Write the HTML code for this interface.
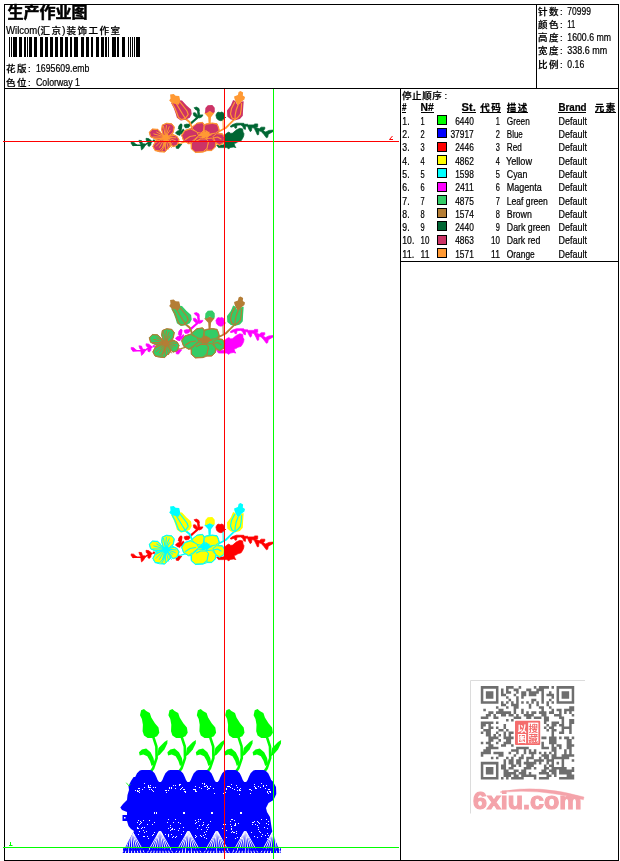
<!DOCTYPE html>
<html lang="zh-CN"><head><meta charset="utf-8"><title>生产作业图</title>
<style>
html,body{margin:0;padding:0;background:#fff;}
body{width:620px;height:861px;position:relative;overflow:hidden;font-family:"Liberation Sans", "Noto Sans CJK SC", sans-serif;}
svg text{font-family:"Liberation Sans", "Noto Sans CJK SC", sans-serif;}
#txt text{stroke:#000;stroke-width:.22px;}
</style></head>
<body>
<svg width="620" height="861" viewBox="0 0 620 861" style="position:absolute;left:0;top:0">
<rect width="620" height="861" fill="#fff"/>
<g transform="translate(0,0)">
<path d="M131.2 141.9 L133.7 142.2 L135.7 144.1 L137 145.1 L133.1 145.7 L131.2 143.8Z" fill="#006633" stroke="#006633" stroke-width="0.7" stroke-linejoin="round"/>
<path d="M133 145.2 L140 145.3 L145.4 144.6 L147.5 143.2 L152 141.5" fill="none" stroke="#006633" stroke-width="1.6" stroke-linecap="round" stroke-linejoin="round"/>
<path d="M138.9 140.3 L141.5 140.6 L142.5 143.5 L140 143.5Z" fill="#006633" stroke="#006633" stroke-width="0.7" stroke-linejoin="round"/>
<path d="M140.8 143.8 L144.7 143.8 L145.4 145.1 L143.4 148.3 L141.5 149.9 L141 147Z" fill="#006633" stroke="#006633" stroke-width="0.7" stroke-linejoin="round"/>
<path d="M146 138.3 L148.6 138.6 L151.2 140.6 L151.8 141.9 L147.9 141.9 L146.3 140.6Z" fill="#006633" stroke="#006633" stroke-width="0.7" stroke-linejoin="round"/>
<path d="M147.9 142.5 L151.2 142.2 L150.8 145.1 L149.2 146.4 L147.9 145.7Z" fill="#006633" stroke="#006633" stroke-width="0.7" stroke-linejoin="round"/>
<path d="M153.1 139.9 L154.7 139.9 L154.7 141.5 L153.1 141.5Z" fill="#006633" stroke="#006633" stroke-width="0.7" stroke-linejoin="round"/>
<path d="M179.6 134.8 L180.8 124.6" fill="none" stroke="#006633" stroke-width="1.6" stroke-linecap="round" stroke-linejoin="round"/>
<path d="M175.4 132.8 L177.5 131 L180 130.2 L180.5 132.5 L179.5 135.2 L177 134.5Z" fill="#006633" stroke="#006633" stroke-width="0.7" stroke-linejoin="round"/>
<path d="M179.3 126.5 L180.3 124.2 L181.8 124.2 L181.6 129.5 L180 130.5Z" fill="#006633" stroke="#006633" stroke-width="0.7" stroke-linejoin="round"/>
<path d="M181 131 L183.5 129 L184 130.5 L182 133.5 L180.5 134Z" fill="#006633" stroke="#006633" stroke-width="0.7" stroke-linejoin="round"/>
<path d="M176 146 L177.5 144 L181.8 144.2 L180 146.5 L178.5 148.6 L176.3 148.3Z" fill="#006633" stroke="#006633" stroke-width="0.7" stroke-linejoin="round"/>
<path d="M194.1 107.7 L196.5 107.1 L199 108.5 L199.4 110.9 L197.3 110.5 L195.3 109.3Z" fill="#006633" stroke="#006633" stroke-width="0.7" stroke-linejoin="round"/>
<path d="M197.3 110.3 L199 110.7 L199.9 115.9 L198.1 116.3Z" fill="#006633" stroke="#006633" stroke-width="0.7" stroke-linejoin="round"/>
<path d="M193.3 112.9 L195.3 112.7 L197.3 114.9 L198.1 117.3 L195.7 117.3 L193.7 115.3Z" fill="#006633" stroke="#006633" stroke-width="0.7" stroke-linejoin="round"/>
<path d="M199 116.1 L200.6 114.9 L203 114.9 L201.8 116.9 L199.4 118.1Z" fill="#006633" stroke="#006633" stroke-width="0.7" stroke-linejoin="round"/>
<path d="M198.6 116.6 L195 119.8 L190.9 123.4 L187.5 125.8" fill="none" stroke="#006633" stroke-width="2.2" stroke-linecap="round" stroke-linejoin="round"/>
<path d="M184.2 124.8 L187 124 L190.3 125.2 L188.5 127.6 L185.5 127.9 L184.4 126.6Z" fill="#006633" stroke="#006633" stroke-width="0.7" stroke-linejoin="round"/>
<path d="M178.2 128.9 L179 125.5 L181.2 124 L182 125 L181.6 127.2 L180.3 129.3Z" fill="#006633" stroke="#006633" stroke-width="0.7" stroke-linejoin="round"/>
<path d="M215.9 115 L217.3 112.6 L219 112 L220 112.8 L221.2 112 L223.2 112.6 L224.2 115 L224.2 118.2 L222.8 120.3 L220.8 120.7 L218.4 120.1 L216.6 118.2Z" fill="#006633" stroke="#006633" stroke-width="0.7" stroke-linejoin="round"/>
<path d="M223.5 117.3 L225.5 117.5" fill="none" stroke="#006633" stroke-width="1" stroke-linecap="round" stroke-linejoin="round"/>
<path d="M225 134.7 L226.9 133.1 L228.8 132.1 L230.8 133.4 L232.7 133.1 L235.3 130.8 L236.3 129.9 L239.8 128.3 L242.7 128.9 L243 132.1 L244 133.7 L243.7 136 L242.7 138.3 L241.1 140.8 L237.9 141.8 L235.9 143.1 L234 143.4 L235 146.3 L235.9 147.6 L233.4 147 L230.1 147.6 L228.8 148.9 L226.9 147.6 L223.7 147.6 L218.5 147.6 L216.6 145 L223.7 145 L225 141.8Z" fill="#006633" stroke="#006633" stroke-width="0.7" stroke-linejoin="round"/>
<path d="M230.1 126.4 L232.5 124.6 L236.5 123.2 L243.8 123.3 L244.5 124.3 L247.7 124.3 L248.3 124.9 L254.1 124.9 L254.5 123.9 L257.7 123.9 L257.7 126.8 L255.4 127.2 L259.3 128.8 L261.2 127.2 L264.8 127.2 L264.8 129.1 L263.2 130.7 L265.7 132 L268.9 130.4 L273.2 130.1 L273.2 131.4 L268.3 134.3 L267.7 137.2 L266.4 137.8 L263.8 134.3 L261.2 131.4 L259 130.7 L258.6 134.6 L257.4 134.9 L256.1 132 L254.1 128.1 L251.9 127.5 L251.5 130.7 L250.3 131.7 L248.6 128.8 L247.7 126.5 L245.7 125.9 L245.4 129.4 L243.8 128.8 L242.5 125.9 L240.6 124.9 L237 125.2 L236.5 128 L235 128.2 L234.3 126.2 L231 127.2Z" fill="#006633" stroke="#006633" stroke-width="0.7" stroke-linejoin="round"/>
<path d="M185.3 118.4 L189.8 122.3 L192.4 128.7" fill="none" stroke="#ff9933" stroke-width="2" stroke-linecap="round" stroke-linejoin="round"/>
<path d="M234.1 119.6 L230.8 122.8 L225.7 128 L220.3 130.8 L218.5 131.6" fill="none" stroke="#ff9933" stroke-width="1.8" stroke-linecap="round" stroke-linejoin="round"/>
<path d="M223 120 L223.2 128.5" fill="none" stroke="#ff9933" stroke-width="1" stroke-linecap="round" stroke-linejoin="round"/>
<path d="M175.5 143.9 L181 143.1 L186 141.6" fill="none" stroke="#ff9933" stroke-width="1.3" stroke-linecap="round" stroke-linejoin="round"/>
<path d="M204.2 112.9 L209.8 110.9 L214.7 112.5 L211 117.3 L210.6 123.4 L208.6 123.4 L208.2 117.3Z" fill="#ff9933"/>
<path d="M171.1 102.9 L179.5 100.3 L182 100.6 L186.6 105.5 L191.1 109.4 L191.7 113.9 L189.8 117.7 L185.3 119.7 L180.8 120.6 L176.9 117.7 L175.6 113.2 L173.7 108.1Z" fill="#cc3366"/>
<path d="M172.3 103.5 L175 108.5 L177 113.5 L178.5 117.5 L181.3 119.6 L185.3 118.6" fill="none" stroke="#ff9933" stroke-width="1.2" stroke-linecap="round" stroke-linejoin="round"/>
<path d="M176.5 104 L179.5 109 L182.5 114 L185.3 118.4" fill="none" stroke="#ff9933" stroke-width="1.2" stroke-linecap="round" stroke-linejoin="round"/>
<path d="M180 102 L183.5 106.5 L187 111 L188.2 114.5 L185.5 118.2" fill="none" stroke="#ff9933" stroke-width="1.2" stroke-linecap="round" stroke-linejoin="round"/>
<path d="M170.1 94.5 L173.7 94 L175.6 95.8 L179.2 96.1 L180.1 99.7 L179.8 102.5 L178.5 104.8 L175.6 103.9 L171.7 102.9 L169.2 100.6 L170.5 98.4Z" fill="#ff9933"/>
<path d="M233.1 99.9 L235.4 100.9 L237.3 104.8 L241.8 101.5 L243.7 101.2 L243.1 109.3 L242.8 115.7 L239.9 119 L235.4 120.3 L230.8 119.6 L227.3 116.4 L227 110.6 L230.8 105.4Z" fill="#cc3366"/>
<path d="M234.6 102.5 L231.5 108.5 L230.5 114 L232 118 L235 119.5" fill="none" stroke="#ff9933" stroke-width="1.2" stroke-linecap="round" stroke-linejoin="round"/>
<path d="M238.3 104.5 L236.2 110 L235.2 115 L235 119.5" fill="none" stroke="#ff9933" stroke-width="1.2" stroke-linecap="round" stroke-linejoin="round"/>
<path d="M241.6 103.5 L241.2 109.5 L240.3 114.5 L237.5 117.8 L235 119.6" fill="none" stroke="#ff9933" stroke-width="1.2" stroke-linecap="round" stroke-linejoin="round"/>
<path d="M234.1 96.4 L237.9 95.1 L238.6 91.9 L240.5 90.9 L243.1 92.5 L242.8 95.4 L245 97 L244.4 99.6 L241.8 101.5 L239.9 104.1 L237.3 104.8 L235.4 100.9 L234.4 98.6Z" fill="#ff9933"/>
<path d="M205 112.9 L205.4 108.1 L207.8 105.2 L212.3 105 L214.7 107.7 L214.8 112.1 L213.1 112.9 L209.8 110.9 L206.6 112.9Z" fill="#cc3366"/>
<path d="M163.4 135.4 L161.6 129.6 L162.3 125 L166.6 123.2 L171.8 123.8 L174.3 127 L173.4 132.2 L172 134.6 L173.1 134.5 L177.2 136.5 L179.1 139.9 L177.2 145.3 L173.1 146.7 L170.5 144.5 L170 147.2 L167.9 148.6 L164.7 152.1 L159.5 151.8 L155 150.6 L152.8 146.4 L155.5 141 L157 139.3 L155 138.9 L150.5 136.8 L149.2 132.2 L152.4 129 L157.7 129.3 L161 132.6Z" fill="#cc3366" stroke="#ff9933" stroke-width="1.0" stroke-linejoin="round"/>
<path d="M163.4 135.4 L161.8 129.6 L162.5 125.1 L166.6 123.5 L171.8 124.1 L174.1 127 L173.1 132.2 L168.6 136.1Z" fill="#cc3366" stroke="#ff9933" stroke-width="1" stroke-linejoin="round"/>
<path d="M164.1 136.7 L157.6 129.6 L152.5 129.3 L149.5 132.2 L150.8 136.7 L155 138.6 L162.1 138.6Z" fill="#cc3366" stroke="#ff9933" stroke-width="1" stroke-linejoin="round"/>
<path d="M167.9 136.1 L173.1 134.8 L177 136.7 L178.9 139.9 L177 145.1 L173.1 146.4 L169.2 142.5 L167.3 138.6Z" fill="#cc3366" stroke="#ff9933" stroke-width="1" stroke-linejoin="round"/>
<path d="M163.4 138.6 L155.7 141.2 L153.1 146.4 L155 150.3 L159.5 150.9 L163.4 146.4 L165.4 141.2Z" fill="#cc3366" stroke="#ff9933" stroke-width="1" stroke-linejoin="round"/>
<path d="M165.4 141.2 L164.1 147 L161.5 151.3 L164.7 151.9 L167.9 148.3 L169.9 147 L170.5 143.8 L167.9 139.9Z" fill="#cc3366" stroke="#ff9933" stroke-width="1" stroke-linejoin="round"/>
<path d="M165.1 135.0 L163.5 126.2" fill="none" stroke="#ff9933" stroke-width="1.0" stroke-linecap="round" stroke-linejoin="round"/>
<path d="M165.6 135.0 L166.4 125.5" fill="none" stroke="#ff9933" stroke-width="1.0" stroke-linecap="round" stroke-linejoin="round"/>
<path d="M166.1 135.1 L169.2 126.7" fill="none" stroke="#ff9933" stroke-width="1.0" stroke-linecap="round" stroke-linejoin="round"/>
<path d="M166.5 135.4 L170.0 130.4" fill="none" stroke="#ff9933" stroke-width="1.0" stroke-linecap="round" stroke-linejoin="round"/>
<path d="M163.5 136.5 L153.8 133.9" fill="none" stroke="#ff9933" stroke-width="1.0" stroke-linecap="round" stroke-linejoin="round"/>
<path d="M163.4 137.0 L152.9 137.0" fill="none" stroke="#ff9933" stroke-width="1.0" stroke-linecap="round" stroke-linejoin="round"/>
<path d="M163.7 136.0 L156.7 132.0" fill="none" stroke="#ff9933" stroke-width="1.0" stroke-linecap="round" stroke-linejoin="round"/>
<path d="M163.5 137.5 L155.7 139.6" fill="none" stroke="#ff9933" stroke-width="1.0" stroke-linecap="round" stroke-linejoin="round"/>
<path d="M167.4 136.7 L174.3 135.4" fill="none" stroke="#ff9933" stroke-width="1.0" stroke-linecap="round" stroke-linejoin="round"/>
<path d="M167.4 137.2 L175.9 137.9" fill="none" stroke="#ff9933" stroke-width="1.0" stroke-linecap="round" stroke-linejoin="round"/>
<path d="M167.3 137.7 L175.3 140.6" fill="none" stroke="#ff9933" stroke-width="1.0" stroke-linecap="round" stroke-linejoin="round"/>
<path d="M167.0 138.1 L172.8 142.2" fill="none" stroke="#ff9933" stroke-width="1.0" stroke-linecap="round" stroke-linejoin="round"/>
<path d="M164.4 138.7 L159.4 147.4" fill="none" stroke="#ff9933" stroke-width="1.0" stroke-linecap="round" stroke-linejoin="round"/>
<path d="M164.0 138.4 L156.2 146.2" fill="none" stroke="#ff9933" stroke-width="1.0" stroke-linecap="round" stroke-linejoin="round"/>
<path d="M163.7 138.0 L155.9 142.5" fill="none" stroke="#ff9933" stroke-width="1.0" stroke-linecap="round" stroke-linejoin="round"/>
<path d="M164.9 138.9 L162.6 147.6" fill="none" stroke="#ff9933" stroke-width="1.0" stroke-linecap="round" stroke-linejoin="round"/>
<path d="M165.9 138.9 L168.6 149.1" fill="none" stroke="#ff9933" stroke-width="1.0" stroke-linecap="round" stroke-linejoin="round"/>
<path d="M166.4 138.7 L171.4 147.4" fill="none" stroke="#ff9933" stroke-width="1.0" stroke-linecap="round" stroke-linejoin="round"/>
<path d="M165.4 139.0 L165.4 149.5" fill="none" stroke="#ff9933" stroke-width="1.0" stroke-linecap="round" stroke-linejoin="round"/>
<path d="M166.7 138.5 L171.4 143.7" fill="none" stroke="#ff9933" stroke-width="1.0" stroke-linecap="round" stroke-linejoin="round"/>
<path d="M162.5 134.5 L165.5 135.2 L168 133.8 L168.3 136.5 L170 138.5 L167.5 139.2 L166.5 141.5 L164.5 139.5 L161.5 139.5 L163 137.2Z" fill="#ff9933"/>
<path d="M181.6 134.7 L184.7 130.5 L190.5 128.5 L192.5 127 L196.9 123.2 L202.6 122.3 L204.5 124.5 L206.6 123.8 L212.3 123 L217.1 123.8 L218.6 127.4 L219.5 131 L218 133 L222.5 133.8 L224.6 137.6 L224.2 142.5 L219.6 145.3 L216 143.5 L215.4 147 L211.8 150.6 L207 150.6 L203.1 152.1 L195.4 152.5 L191.2 148.7 L191 143.5 L188.6 143.8 L183.5 140.7Z" fill="#cc3366" stroke="#ff9933" stroke-width="1.0" stroke-linejoin="round"/>
<path d="M192.9 126.6 L196.9 123.4 L202.6 122.6 L204.2 125.8 L203.4 130.6 L201 133.1 L196.1 132.3 L192.1 128.2Z" fill="#cc3366" stroke="#ff9933" stroke-width="1" stroke-linejoin="round"/>
<path d="M204.2 125.8 L206.6 124.2 L212.3 123.4 L217.1 124.2 L218.3 127.4 L219.1 130.6 L215.5 133.1 L210.6 133.9 L206.6 131 L204.2 130.6Z" fill="#cc3366" stroke="#ff9933" stroke-width="1" stroke-linejoin="round"/>
<path d="M181.8 135.7 L184.7 130.8 L190.5 128.9 L196.8 131.8 L198.7 135.7 L192.5 141 L188.6 143.4 L183.7 140.5Z" fill="#cc3366" stroke="#ff9933" stroke-width="1" stroke-linejoin="round"/>
<path d="M212.8 136.6 L216.7 133.7 L222.5 134.2 L224.4 137.6 L223.9 142.5 L219.6 144.9 L215.7 142.5Z" fill="#cc3366" stroke="#ff9933" stroke-width="1" stroke-linejoin="round"/>
<path d="M208.4 141.5 L206 138.6 L211.8 138.1 L215.7 142.5 L215.2 146.8 L211.8 150.2 L207 150.2 L207 148.3Z" fill="#cc3366" stroke="#ff9933" stroke-width="1" stroke-linejoin="round"/>
<path d="M191.5 142.9 L198.3 137.1 L205 137.6 L208.4 141.5 L207 148.3 L203.1 151.7 L195.4 152.1 L191.5 148.7Z" fill="#cc3366" stroke="#ff9933" stroke-width="1" stroke-linejoin="round"/>
<path d="M185.5 139.5 L190 136.5 L195.5 135.5" fill="none" stroke="#ff9933" stroke-width="1.2" stroke-linecap="round" stroke-linejoin="round"/>
<path d="M196.5 141 L200.5 139 L205.5 139" fill="none" stroke="#ff9933" stroke-width="1.2" stroke-linecap="round" stroke-linejoin="round"/>
<path d="M213.5 138 L217.5 137 L221 139" fill="none" stroke="#ff9933" stroke-width="1.2" stroke-linecap="round" stroke-linejoin="round"/>
<path d="M199.5 134 L202.5 132.3 L203.6 129.5 L205.2 131.8 L206.6 130.6 L207.6 132.2 L209.4 131.4 L209 133.4 L213 134.8 L209.4 136 L207 138.3 L204.8 137.2 L202 138.4 L201.6 136.2 L198 136Z" fill="#ff9933"/>
</g>
<g transform="translate(0,205.5)">
<path d="M131.2 141.9 L133.7 142.2 L135.7 144.1 L137 145.1 L133.1 145.7 L131.2 143.8Z" fill="#ff00ff" stroke="#ff00ff" stroke-width="0.7" stroke-linejoin="round"/>
<path d="M133 145.2 L140 145.3 L145.4 144.6 L147.5 143.2 L152 141.5" fill="none" stroke="#ff00ff" stroke-width="1.6" stroke-linecap="round" stroke-linejoin="round"/>
<path d="M138.9 140.3 L141.5 140.6 L142.5 143.5 L140 143.5Z" fill="#ff00ff" stroke="#ff00ff" stroke-width="0.7" stroke-linejoin="round"/>
<path d="M140.8 143.8 L144.7 143.8 L145.4 145.1 L143.4 148.3 L141.5 149.9 L141 147Z" fill="#ff00ff" stroke="#ff00ff" stroke-width="0.7" stroke-linejoin="round"/>
<path d="M146 138.3 L148.6 138.6 L151.2 140.6 L151.8 141.9 L147.9 141.9 L146.3 140.6Z" fill="#ff00ff" stroke="#ff00ff" stroke-width="0.7" stroke-linejoin="round"/>
<path d="M147.9 142.5 L151.2 142.2 L150.8 145.1 L149.2 146.4 L147.9 145.7Z" fill="#ff00ff" stroke="#ff00ff" stroke-width="0.7" stroke-linejoin="round"/>
<path d="M153.1 139.9 L154.7 139.9 L154.7 141.5 L153.1 141.5Z" fill="#ff00ff" stroke="#ff00ff" stroke-width="0.7" stroke-linejoin="round"/>
<path d="M179.6 134.8 L180.8 124.6" fill="none" stroke="#ff00ff" stroke-width="1.6" stroke-linecap="round" stroke-linejoin="round"/>
<path d="M175.4 132.8 L177.5 131 L180 130.2 L180.5 132.5 L179.5 135.2 L177 134.5Z" fill="#ff00ff" stroke="#ff00ff" stroke-width="0.7" stroke-linejoin="round"/>
<path d="M179.3 126.5 L180.3 124.2 L181.8 124.2 L181.6 129.5 L180 130.5Z" fill="#ff00ff" stroke="#ff00ff" stroke-width="0.7" stroke-linejoin="round"/>
<path d="M181 131 L183.5 129 L184 130.5 L182 133.5 L180.5 134Z" fill="#ff00ff" stroke="#ff00ff" stroke-width="0.7" stroke-linejoin="round"/>
<path d="M176 146 L177.5 144 L181.8 144.2 L180 146.5 L178.5 148.6 L176.3 148.3Z" fill="#ff00ff" stroke="#ff00ff" stroke-width="0.7" stroke-linejoin="round"/>
<path d="M194.1 107.7 L196.5 107.1 L199 108.5 L199.4 110.9 L197.3 110.5 L195.3 109.3Z" fill="#ff00ff" stroke="#ff00ff" stroke-width="0.7" stroke-linejoin="round"/>
<path d="M197.3 110.3 L199 110.7 L199.9 115.9 L198.1 116.3Z" fill="#ff00ff" stroke="#ff00ff" stroke-width="0.7" stroke-linejoin="round"/>
<path d="M193.3 112.9 L195.3 112.7 L197.3 114.9 L198.1 117.3 L195.7 117.3 L193.7 115.3Z" fill="#ff00ff" stroke="#ff00ff" stroke-width="0.7" stroke-linejoin="round"/>
<path d="M199 116.1 L200.6 114.9 L203 114.9 L201.8 116.9 L199.4 118.1Z" fill="#ff00ff" stroke="#ff00ff" stroke-width="0.7" stroke-linejoin="round"/>
<path d="M198.6 116.6 L195 119.8 L190.9 123.4 L187.5 125.8" fill="none" stroke="#ff00ff" stroke-width="2.2" stroke-linecap="round" stroke-linejoin="round"/>
<path d="M184.2 124.8 L187 124 L190.3 125.2 L188.5 127.6 L185.5 127.9 L184.4 126.6Z" fill="#ff00ff" stroke="#ff00ff" stroke-width="0.7" stroke-linejoin="round"/>
<path d="M178.2 128.9 L179 125.5 L181.2 124 L182 125 L181.6 127.2 L180.3 129.3Z" fill="#ff00ff" stroke="#ff00ff" stroke-width="0.7" stroke-linejoin="round"/>
<path d="M215.9 115 L217.3 112.6 L219 112 L220 112.8 L221.2 112 L223.2 112.6 L224.2 115 L224.2 118.2 L222.8 120.3 L220.8 120.7 L218.4 120.1 L216.6 118.2Z" fill="#ff00ff" stroke="#ff00ff" stroke-width="0.7" stroke-linejoin="round"/>
<path d="M223.5 117.3 L225.5 117.5" fill="none" stroke="#ff00ff" stroke-width="1" stroke-linecap="round" stroke-linejoin="round"/>
<path d="M225 134.7 L226.9 133.1 L228.8 132.1 L230.8 133.4 L232.7 133.1 L235.3 130.8 L236.3 129.9 L239.8 128.3 L242.7 128.9 L243 132.1 L244 133.7 L243.7 136 L242.7 138.3 L241.1 140.8 L237.9 141.8 L235.9 143.1 L234 143.4 L235 146.3 L235.9 147.6 L233.4 147 L230.1 147.6 L228.8 148.9 L226.9 147.6 L223.7 147.6 L218.5 147.6 L216.6 145 L223.7 145 L225 141.8Z" fill="#ff00ff" stroke="#ff00ff" stroke-width="0.7" stroke-linejoin="round"/>
<path d="M230.1 126.4 L232.5 124.6 L236.5 123.2 L243.8 123.3 L244.5 124.3 L247.7 124.3 L248.3 124.9 L254.1 124.9 L254.5 123.9 L257.7 123.9 L257.7 126.8 L255.4 127.2 L259.3 128.8 L261.2 127.2 L264.8 127.2 L264.8 129.1 L263.2 130.7 L265.7 132 L268.9 130.4 L273.2 130.1 L273.2 131.4 L268.3 134.3 L267.7 137.2 L266.4 137.8 L263.8 134.3 L261.2 131.4 L259 130.7 L258.6 134.6 L257.4 134.9 L256.1 132 L254.1 128.1 L251.9 127.5 L251.5 130.7 L250.3 131.7 L248.6 128.8 L247.7 126.5 L245.7 125.9 L245.4 129.4 L243.8 128.8 L242.5 125.9 L240.6 124.9 L237 125.2 L236.5 128 L235 128.2 L234.3 126.2 L231 127.2Z" fill="#ff00ff" stroke="#ff00ff" stroke-width="0.7" stroke-linejoin="round"/>
<path d="M185.3 118.4 L189.8 122.3 L192.4 128.7" fill="none" stroke="#b47d35" stroke-width="2" stroke-linecap="round" stroke-linejoin="round"/>
<path d="M234.1 119.6 L230.8 122.8 L225.7 128 L220.3 130.8 L218.5 131.6" fill="none" stroke="#b47d35" stroke-width="1.8" stroke-linecap="round" stroke-linejoin="round"/>
<path d="M223 120 L223.2 128.5" fill="none" stroke="#b47d35" stroke-width="1" stroke-linecap="round" stroke-linejoin="round"/>
<path d="M175.5 143.9 L181 143.1 L186 141.6" fill="none" stroke="#b47d35" stroke-width="1.3" stroke-linecap="round" stroke-linejoin="round"/>
<path d="M204.2 112.9 L209.8 110.9 L214.7 112.5 L211 117.3 L210.6 123.4 L208.6 123.4 L208.2 117.3Z" fill="#b47d35"/>
<path d="M171.1 102.9 L179.5 100.3 L182 100.6 L186.6 105.5 L191.1 109.4 L191.7 113.9 L189.8 117.7 L185.3 119.7 L180.8 120.6 L176.9 117.7 L175.6 113.2 L173.7 108.1Z" fill="#33cc66"/>
<path d="M172.3 103.5 L175 108.5 L177 113.5 L178.5 117.5 L181.3 119.6 L185.3 118.6" fill="none" stroke="#b47d35" stroke-width="1.2" stroke-linecap="round" stroke-linejoin="round"/>
<path d="M176.5 104 L179.5 109 L182.5 114 L185.3 118.4" fill="none" stroke="#b47d35" stroke-width="1.2" stroke-linecap="round" stroke-linejoin="round"/>
<path d="M180 102 L183.5 106.5 L187 111 L188.2 114.5 L185.5 118.2" fill="none" stroke="#b47d35" stroke-width="1.2" stroke-linecap="round" stroke-linejoin="round"/>
<path d="M170.1 94.5 L173.7 94 L175.6 95.8 L179.2 96.1 L180.1 99.7 L179.8 102.5 L178.5 104.8 L175.6 103.9 L171.7 102.9 L169.2 100.6 L170.5 98.4Z" fill="#b47d35"/>
<path d="M233.1 99.9 L235.4 100.9 L237.3 104.8 L241.8 101.5 L243.7 101.2 L243.1 109.3 L242.8 115.7 L239.9 119 L235.4 120.3 L230.8 119.6 L227.3 116.4 L227 110.6 L230.8 105.4Z" fill="#33cc66"/>
<path d="M234.6 102.5 L231.5 108.5 L230.5 114 L232 118 L235 119.5" fill="none" stroke="#b47d35" stroke-width="1.2" stroke-linecap="round" stroke-linejoin="round"/>
<path d="M238.3 104.5 L236.2 110 L235.2 115 L235 119.5" fill="none" stroke="#b47d35" stroke-width="1.2" stroke-linecap="round" stroke-linejoin="round"/>
<path d="M241.6 103.5 L241.2 109.5 L240.3 114.5 L237.5 117.8 L235 119.6" fill="none" stroke="#b47d35" stroke-width="1.2" stroke-linecap="round" stroke-linejoin="round"/>
<path d="M234.1 96.4 L237.9 95.1 L238.6 91.9 L240.5 90.9 L243.1 92.5 L242.8 95.4 L245 97 L244.4 99.6 L241.8 101.5 L239.9 104.1 L237.3 104.8 L235.4 100.9 L234.4 98.6Z" fill="#b47d35"/>
<path d="M205 112.9 L205.4 108.1 L207.8 105.2 L212.3 105 L214.7 107.7 L214.8 112.1 L213.1 112.9 L209.8 110.9 L206.6 112.9Z" fill="#33cc66"/>
<path d="M163.4 135.4 L161.6 129.6 L162.3 125 L166.6 123.2 L171.8 123.8 L174.3 127 L173.4 132.2 L172 134.6 L173.1 134.5 L177.2 136.5 L179.1 139.9 L177.2 145.3 L173.1 146.7 L170.5 144.5 L170 147.2 L167.9 148.6 L164.7 152.1 L159.5 151.8 L155 150.6 L152.8 146.4 L155.5 141 L157 139.3 L155 138.9 L150.5 136.8 L149.2 132.2 L152.4 129 L157.7 129.3 L161 132.6Z" fill="#33cc66" stroke="#b47d35" stroke-width="1.0" stroke-linejoin="round"/>
<path d="M163.4 135.4 L161.8 129.6 L162.5 125.1 L166.6 123.5 L171.8 124.1 L174.1 127 L173.1 132.2 L168.6 136.1Z" fill="#33cc66" stroke="#b47d35" stroke-width="1" stroke-linejoin="round"/>
<path d="M164.1 136.7 L157.6 129.6 L152.5 129.3 L149.5 132.2 L150.8 136.7 L155 138.6 L162.1 138.6Z" fill="#33cc66" stroke="#b47d35" stroke-width="1" stroke-linejoin="round"/>
<path d="M167.9 136.1 L173.1 134.8 L177 136.7 L178.9 139.9 L177 145.1 L173.1 146.4 L169.2 142.5 L167.3 138.6Z" fill="#33cc66" stroke="#b47d35" stroke-width="1" stroke-linejoin="round"/>
<path d="M163.4 138.6 L155.7 141.2 L153.1 146.4 L155 150.3 L159.5 150.9 L163.4 146.4 L165.4 141.2Z" fill="#33cc66" stroke="#b47d35" stroke-width="1" stroke-linejoin="round"/>
<path d="M165.4 141.2 L164.1 147 L161.5 151.3 L164.7 151.9 L167.9 148.3 L169.9 147 L170.5 143.8 L167.9 139.9Z" fill="#33cc66" stroke="#b47d35" stroke-width="1" stroke-linejoin="round"/>
<path d="M165.1 135.0 L163.5 126.2" fill="none" stroke="#b47d35" stroke-width="1.0" stroke-linecap="round" stroke-linejoin="round"/>
<path d="M165.6 135.0 L166.4 125.5" fill="none" stroke="#b47d35" stroke-width="1.0" stroke-linecap="round" stroke-linejoin="round"/>
<path d="M166.1 135.1 L169.2 126.7" fill="none" stroke="#b47d35" stroke-width="1.0" stroke-linecap="round" stroke-linejoin="round"/>
<path d="M166.5 135.4 L170.0 130.4" fill="none" stroke="#b47d35" stroke-width="1.0" stroke-linecap="round" stroke-linejoin="round"/>
<path d="M163.5 136.5 L153.8 133.9" fill="none" stroke="#b47d35" stroke-width="1.0" stroke-linecap="round" stroke-linejoin="round"/>
<path d="M163.4 137.0 L152.9 137.0" fill="none" stroke="#b47d35" stroke-width="1.0" stroke-linecap="round" stroke-linejoin="round"/>
<path d="M163.7 136.0 L156.7 132.0" fill="none" stroke="#b47d35" stroke-width="1.0" stroke-linecap="round" stroke-linejoin="round"/>
<path d="M163.5 137.5 L155.7 139.6" fill="none" stroke="#b47d35" stroke-width="1.0" stroke-linecap="round" stroke-linejoin="round"/>
<path d="M167.4 136.7 L174.3 135.4" fill="none" stroke="#b47d35" stroke-width="1.0" stroke-linecap="round" stroke-linejoin="round"/>
<path d="M167.4 137.2 L175.9 137.9" fill="none" stroke="#b47d35" stroke-width="1.0" stroke-linecap="round" stroke-linejoin="round"/>
<path d="M167.3 137.7 L175.3 140.6" fill="none" stroke="#b47d35" stroke-width="1.0" stroke-linecap="round" stroke-linejoin="round"/>
<path d="M167.0 138.1 L172.8 142.2" fill="none" stroke="#b47d35" stroke-width="1.0" stroke-linecap="round" stroke-linejoin="round"/>
<path d="M164.4 138.7 L159.4 147.4" fill="none" stroke="#b47d35" stroke-width="1.0" stroke-linecap="round" stroke-linejoin="round"/>
<path d="M164.0 138.4 L156.2 146.2" fill="none" stroke="#b47d35" stroke-width="1.0" stroke-linecap="round" stroke-linejoin="round"/>
<path d="M163.7 138.0 L155.9 142.5" fill="none" stroke="#b47d35" stroke-width="1.0" stroke-linecap="round" stroke-linejoin="round"/>
<path d="M164.9 138.9 L162.6 147.6" fill="none" stroke="#b47d35" stroke-width="1.0" stroke-linecap="round" stroke-linejoin="round"/>
<path d="M165.9 138.9 L168.6 149.1" fill="none" stroke="#b47d35" stroke-width="1.0" stroke-linecap="round" stroke-linejoin="round"/>
<path d="M166.4 138.7 L171.4 147.4" fill="none" stroke="#b47d35" stroke-width="1.0" stroke-linecap="round" stroke-linejoin="round"/>
<path d="M165.4 139.0 L165.4 149.5" fill="none" stroke="#b47d35" stroke-width="1.0" stroke-linecap="round" stroke-linejoin="round"/>
<path d="M166.7 138.5 L171.4 143.7" fill="none" stroke="#b47d35" stroke-width="1.0" stroke-linecap="round" stroke-linejoin="round"/>
<path d="M162.5 134.5 L165.5 135.2 L168 133.8 L168.3 136.5 L170 138.5 L167.5 139.2 L166.5 141.5 L164.5 139.5 L161.5 139.5 L163 137.2Z" fill="#b47d35"/>
<path d="M181.6 134.7 L184.7 130.5 L190.5 128.5 L192.5 127 L196.9 123.2 L202.6 122.3 L204.5 124.5 L206.6 123.8 L212.3 123 L217.1 123.8 L218.6 127.4 L219.5 131 L218 133 L222.5 133.8 L224.6 137.6 L224.2 142.5 L219.6 145.3 L216 143.5 L215.4 147 L211.8 150.6 L207 150.6 L203.1 152.1 L195.4 152.5 L191.2 148.7 L191 143.5 L188.6 143.8 L183.5 140.7Z" fill="#33cc66" stroke="#b47d35" stroke-width="1.0" stroke-linejoin="round"/>
<path d="M192.9 126.6 L196.9 123.4 L202.6 122.6 L204.2 125.8 L203.4 130.6 L201 133.1 L196.1 132.3 L192.1 128.2Z" fill="#33cc66" stroke="#b47d35" stroke-width="1" stroke-linejoin="round"/>
<path d="M204.2 125.8 L206.6 124.2 L212.3 123.4 L217.1 124.2 L218.3 127.4 L219.1 130.6 L215.5 133.1 L210.6 133.9 L206.6 131 L204.2 130.6Z" fill="#33cc66" stroke="#b47d35" stroke-width="1" stroke-linejoin="round"/>
<path d="M181.8 135.7 L184.7 130.8 L190.5 128.9 L196.8 131.8 L198.7 135.7 L192.5 141 L188.6 143.4 L183.7 140.5Z" fill="#33cc66" stroke="#b47d35" stroke-width="1" stroke-linejoin="round"/>
<path d="M212.8 136.6 L216.7 133.7 L222.5 134.2 L224.4 137.6 L223.9 142.5 L219.6 144.9 L215.7 142.5Z" fill="#33cc66" stroke="#b47d35" stroke-width="1" stroke-linejoin="round"/>
<path d="M208.4 141.5 L206 138.6 L211.8 138.1 L215.7 142.5 L215.2 146.8 L211.8 150.2 L207 150.2 L207 148.3Z" fill="#33cc66" stroke="#b47d35" stroke-width="1" stroke-linejoin="round"/>
<path d="M191.5 142.9 L198.3 137.1 L205 137.6 L208.4 141.5 L207 148.3 L203.1 151.7 L195.4 152.1 L191.5 148.7Z" fill="#33cc66" stroke="#b47d35" stroke-width="1" stroke-linejoin="round"/>
<path d="M185.5 139.5 L190 136.5 L195.5 135.5" fill="none" stroke="#b47d35" stroke-width="1.2" stroke-linecap="round" stroke-linejoin="round"/>
<path d="M196.5 141 L200.5 139 L205.5 139" fill="none" stroke="#b47d35" stroke-width="1.2" stroke-linecap="round" stroke-linejoin="round"/>
<path d="M213.5 138 L217.5 137 L221 139" fill="none" stroke="#b47d35" stroke-width="1.2" stroke-linecap="round" stroke-linejoin="round"/>
<path d="M199.5 134 L202.5 132.3 L203.6 129.5 L205.2 131.8 L206.6 130.6 L207.6 132.2 L209.4 131.4 L209 133.4 L213 134.8 L209.4 136 L207 138.3 L204.8 137.2 L202 138.4 L201.6 136.2 L198 136Z" fill="#b47d35"/>
</g>
<g transform="translate(0,412)">
<path d="M131.2 141.9 L133.7 142.2 L135.7 144.1 L137 145.1 L133.1 145.7 L131.2 143.8Z" fill="#ff0000" stroke="#ff0000" stroke-width="0.7" stroke-linejoin="round"/>
<path d="M133 145.2 L140 145.3 L145.4 144.6 L147.5 143.2 L152 141.5" fill="none" stroke="#ff0000" stroke-width="1.6" stroke-linecap="round" stroke-linejoin="round"/>
<path d="M138.9 140.3 L141.5 140.6 L142.5 143.5 L140 143.5Z" fill="#ff0000" stroke="#ff0000" stroke-width="0.7" stroke-linejoin="round"/>
<path d="M140.8 143.8 L144.7 143.8 L145.4 145.1 L143.4 148.3 L141.5 149.9 L141 147Z" fill="#ff0000" stroke="#ff0000" stroke-width="0.7" stroke-linejoin="round"/>
<path d="M146 138.3 L148.6 138.6 L151.2 140.6 L151.8 141.9 L147.9 141.9 L146.3 140.6Z" fill="#ff0000" stroke="#ff0000" stroke-width="0.7" stroke-linejoin="round"/>
<path d="M147.9 142.5 L151.2 142.2 L150.8 145.1 L149.2 146.4 L147.9 145.7Z" fill="#ff0000" stroke="#ff0000" stroke-width="0.7" stroke-linejoin="round"/>
<path d="M153.1 139.9 L154.7 139.9 L154.7 141.5 L153.1 141.5Z" fill="#ff0000" stroke="#ff0000" stroke-width="0.7" stroke-linejoin="round"/>
<path d="M179.6 134.8 L180.8 124.6" fill="none" stroke="#ff0000" stroke-width="1.6" stroke-linecap="round" stroke-linejoin="round"/>
<path d="M175.4 132.8 L177.5 131 L180 130.2 L180.5 132.5 L179.5 135.2 L177 134.5Z" fill="#ff0000" stroke="#ff0000" stroke-width="0.7" stroke-linejoin="round"/>
<path d="M179.3 126.5 L180.3 124.2 L181.8 124.2 L181.6 129.5 L180 130.5Z" fill="#ff0000" stroke="#ff0000" stroke-width="0.7" stroke-linejoin="round"/>
<path d="M181 131 L183.5 129 L184 130.5 L182 133.5 L180.5 134Z" fill="#ff0000" stroke="#ff0000" stroke-width="0.7" stroke-linejoin="round"/>
<path d="M176 146 L177.5 144 L181.8 144.2 L180 146.5 L178.5 148.6 L176.3 148.3Z" fill="#ff0000" stroke="#ff0000" stroke-width="0.7" stroke-linejoin="round"/>
<path d="M194.1 107.7 L196.5 107.1 L199 108.5 L199.4 110.9 L197.3 110.5 L195.3 109.3Z" fill="#ff0000" stroke="#ff0000" stroke-width="0.7" stroke-linejoin="round"/>
<path d="M197.3 110.3 L199 110.7 L199.9 115.9 L198.1 116.3Z" fill="#ff0000" stroke="#ff0000" stroke-width="0.7" stroke-linejoin="round"/>
<path d="M193.3 112.9 L195.3 112.7 L197.3 114.9 L198.1 117.3 L195.7 117.3 L193.7 115.3Z" fill="#ff0000" stroke="#ff0000" stroke-width="0.7" stroke-linejoin="round"/>
<path d="M199 116.1 L200.6 114.9 L203 114.9 L201.8 116.9 L199.4 118.1Z" fill="#ff0000" stroke="#ff0000" stroke-width="0.7" stroke-linejoin="round"/>
<path d="M198.6 116.6 L195 119.8 L190.9 123.4 L187.5 125.8" fill="none" stroke="#ff0000" stroke-width="2.2" stroke-linecap="round" stroke-linejoin="round"/>
<path d="M184.2 124.8 L187 124 L190.3 125.2 L188.5 127.6 L185.5 127.9 L184.4 126.6Z" fill="#ff0000" stroke="#ff0000" stroke-width="0.7" stroke-linejoin="round"/>
<path d="M178.2 128.9 L179 125.5 L181.2 124 L182 125 L181.6 127.2 L180.3 129.3Z" fill="#ff0000" stroke="#ff0000" stroke-width="0.7" stroke-linejoin="round"/>
<path d="M215.9 115 L217.3 112.6 L219 112 L220 112.8 L221.2 112 L223.2 112.6 L224.2 115 L224.2 118.2 L222.8 120.3 L220.8 120.7 L218.4 120.1 L216.6 118.2Z" fill="#ff0000" stroke="#ff0000" stroke-width="0.7" stroke-linejoin="round"/>
<path d="M223.5 117.3 L225.5 117.5" fill="none" stroke="#ff0000" stroke-width="1" stroke-linecap="round" stroke-linejoin="round"/>
<path d="M225 134.7 L226.9 133.1 L228.8 132.1 L230.8 133.4 L232.7 133.1 L235.3 130.8 L236.3 129.9 L239.8 128.3 L242.7 128.9 L243 132.1 L244 133.7 L243.7 136 L242.7 138.3 L241.1 140.8 L237.9 141.8 L235.9 143.1 L234 143.4 L235 146.3 L235.9 147.6 L233.4 147 L230.1 147.6 L228.8 148.9 L226.9 147.6 L223.7 147.6 L218.5 147.6 L216.6 145 L223.7 145 L225 141.8Z" fill="#ff0000" stroke="#ff0000" stroke-width="0.7" stroke-linejoin="round"/>
<path d="M230.1 126.4 L232.5 124.6 L236.5 123.2 L243.8 123.3 L244.5 124.3 L247.7 124.3 L248.3 124.9 L254.1 124.9 L254.5 123.9 L257.7 123.9 L257.7 126.8 L255.4 127.2 L259.3 128.8 L261.2 127.2 L264.8 127.2 L264.8 129.1 L263.2 130.7 L265.7 132 L268.9 130.4 L273.2 130.1 L273.2 131.4 L268.3 134.3 L267.7 137.2 L266.4 137.8 L263.8 134.3 L261.2 131.4 L259 130.7 L258.6 134.6 L257.4 134.9 L256.1 132 L254.1 128.1 L251.9 127.5 L251.5 130.7 L250.3 131.7 L248.6 128.8 L247.7 126.5 L245.7 125.9 L245.4 129.4 L243.8 128.8 L242.5 125.9 L240.6 124.9 L237 125.2 L236.5 128 L235 128.2 L234.3 126.2 L231 127.2Z" fill="#ff0000" stroke="#ff0000" stroke-width="0.7" stroke-linejoin="round"/>
<path d="M185.3 118.4 L189.8 122.3 L192.4 128.7" fill="none" stroke="#00ffff" stroke-width="2" stroke-linecap="round" stroke-linejoin="round"/>
<path d="M234.1 119.6 L230.8 122.8 L225.7 128 L220.3 130.8 L218.5 131.6" fill="none" stroke="#00ffff" stroke-width="1.8" stroke-linecap="round" stroke-linejoin="round"/>
<path d="M223 120 L223.2 128.5" fill="none" stroke="#00ffff" stroke-width="1" stroke-linecap="round" stroke-linejoin="round"/>
<path d="M175.5 143.9 L181 143.1 L186 141.6" fill="none" stroke="#00ffff" stroke-width="1.3" stroke-linecap="round" stroke-linejoin="round"/>
<path d="M204.2 112.9 L209.8 110.9 L214.7 112.5 L211 117.3 L210.6 123.4 L208.6 123.4 L208.2 117.3Z" fill="#00ffff"/>
<path d="M171.1 102.9 L179.5 100.3 L182 100.6 L186.6 105.5 L191.1 109.4 L191.7 113.9 L189.8 117.7 L185.3 119.7 L180.8 120.6 L176.9 117.7 L175.6 113.2 L173.7 108.1Z" fill="#ffff00"/>
<path d="M172.3 103.5 L175 108.5 L177 113.5 L178.5 117.5 L181.3 119.6 L185.3 118.6" fill="none" stroke="#00ffff" stroke-width="1.2" stroke-linecap="round" stroke-linejoin="round"/>
<path d="M176.5 104 L179.5 109 L182.5 114 L185.3 118.4" fill="none" stroke="#00ffff" stroke-width="1.2" stroke-linecap="round" stroke-linejoin="round"/>
<path d="M180 102 L183.5 106.5 L187 111 L188.2 114.5 L185.5 118.2" fill="none" stroke="#00ffff" stroke-width="1.2" stroke-linecap="round" stroke-linejoin="round"/>
<path d="M170.1 94.5 L173.7 94 L175.6 95.8 L179.2 96.1 L180.1 99.7 L179.8 102.5 L178.5 104.8 L175.6 103.9 L171.7 102.9 L169.2 100.6 L170.5 98.4Z" fill="#00ffff"/>
<path d="M233.1 99.9 L235.4 100.9 L237.3 104.8 L241.8 101.5 L243.7 101.2 L243.1 109.3 L242.8 115.7 L239.9 119 L235.4 120.3 L230.8 119.6 L227.3 116.4 L227 110.6 L230.8 105.4Z" fill="#ffff00"/>
<path d="M234.6 102.5 L231.5 108.5 L230.5 114 L232 118 L235 119.5" fill="none" stroke="#00ffff" stroke-width="1.2" stroke-linecap="round" stroke-linejoin="round"/>
<path d="M238.3 104.5 L236.2 110 L235.2 115 L235 119.5" fill="none" stroke="#00ffff" stroke-width="1.2" stroke-linecap="round" stroke-linejoin="round"/>
<path d="M241.6 103.5 L241.2 109.5 L240.3 114.5 L237.5 117.8 L235 119.6" fill="none" stroke="#00ffff" stroke-width="1.2" stroke-linecap="round" stroke-linejoin="round"/>
<path d="M234.1 96.4 L237.9 95.1 L238.6 91.9 L240.5 90.9 L243.1 92.5 L242.8 95.4 L245 97 L244.4 99.6 L241.8 101.5 L239.9 104.1 L237.3 104.8 L235.4 100.9 L234.4 98.6Z" fill="#00ffff"/>
<path d="M205 112.9 L205.4 108.1 L207.8 105.2 L212.3 105 L214.7 107.7 L214.8 112.1 L213.1 112.9 L209.8 110.9 L206.6 112.9Z" fill="#ffff00"/>
<path d="M163.4 135.4 L161.6 129.6 L162.3 125 L166.6 123.2 L171.8 123.8 L174.3 127 L173.4 132.2 L172 134.6 L173.1 134.5 L177.2 136.5 L179.1 139.9 L177.2 145.3 L173.1 146.7 L170.5 144.5 L170 147.2 L167.9 148.6 L164.7 152.1 L159.5 151.8 L155 150.6 L152.8 146.4 L155.5 141 L157 139.3 L155 138.9 L150.5 136.8 L149.2 132.2 L152.4 129 L157.7 129.3 L161 132.6Z" fill="#ffff00" stroke="#00ffff" stroke-width="1.0" stroke-linejoin="round"/>
<path d="M163.4 135.4 L161.8 129.6 L162.5 125.1 L166.6 123.5 L171.8 124.1 L174.1 127 L173.1 132.2 L168.6 136.1Z" fill="#ffff00" stroke="#00ffff" stroke-width="1" stroke-linejoin="round"/>
<path d="M164.1 136.7 L157.6 129.6 L152.5 129.3 L149.5 132.2 L150.8 136.7 L155 138.6 L162.1 138.6Z" fill="#ffff00" stroke="#00ffff" stroke-width="1" stroke-linejoin="round"/>
<path d="M167.9 136.1 L173.1 134.8 L177 136.7 L178.9 139.9 L177 145.1 L173.1 146.4 L169.2 142.5 L167.3 138.6Z" fill="#ffff00" stroke="#00ffff" stroke-width="1" stroke-linejoin="round"/>
<path d="M163.4 138.6 L155.7 141.2 L153.1 146.4 L155 150.3 L159.5 150.9 L163.4 146.4 L165.4 141.2Z" fill="#ffff00" stroke="#00ffff" stroke-width="1" stroke-linejoin="round"/>
<path d="M165.4 141.2 L164.1 147 L161.5 151.3 L164.7 151.9 L167.9 148.3 L169.9 147 L170.5 143.8 L167.9 139.9Z" fill="#ffff00" stroke="#00ffff" stroke-width="1" stroke-linejoin="round"/>
<path d="M165.1 135.0 L163.5 126.2" fill="none" stroke="#00ffff" stroke-width="1.0" stroke-linecap="round" stroke-linejoin="round"/>
<path d="M165.6 135.0 L166.4 125.5" fill="none" stroke="#00ffff" stroke-width="1.0" stroke-linecap="round" stroke-linejoin="round"/>
<path d="M166.1 135.1 L169.2 126.7" fill="none" stroke="#00ffff" stroke-width="1.0" stroke-linecap="round" stroke-linejoin="round"/>
<path d="M166.5 135.4 L170.0 130.4" fill="none" stroke="#00ffff" stroke-width="1.0" stroke-linecap="round" stroke-linejoin="round"/>
<path d="M163.5 136.5 L153.8 133.9" fill="none" stroke="#00ffff" stroke-width="1.0" stroke-linecap="round" stroke-linejoin="round"/>
<path d="M163.4 137.0 L152.9 137.0" fill="none" stroke="#00ffff" stroke-width="1.0" stroke-linecap="round" stroke-linejoin="round"/>
<path d="M163.7 136.0 L156.7 132.0" fill="none" stroke="#00ffff" stroke-width="1.0" stroke-linecap="round" stroke-linejoin="round"/>
<path d="M163.5 137.5 L155.7 139.6" fill="none" stroke="#00ffff" stroke-width="1.0" stroke-linecap="round" stroke-linejoin="round"/>
<path d="M167.4 136.7 L174.3 135.4" fill="none" stroke="#00ffff" stroke-width="1.0" stroke-linecap="round" stroke-linejoin="round"/>
<path d="M167.4 137.2 L175.9 137.9" fill="none" stroke="#00ffff" stroke-width="1.0" stroke-linecap="round" stroke-linejoin="round"/>
<path d="M167.3 137.7 L175.3 140.6" fill="none" stroke="#00ffff" stroke-width="1.0" stroke-linecap="round" stroke-linejoin="round"/>
<path d="M167.0 138.1 L172.8 142.2" fill="none" stroke="#00ffff" stroke-width="1.0" stroke-linecap="round" stroke-linejoin="round"/>
<path d="M164.4 138.7 L159.4 147.4" fill="none" stroke="#00ffff" stroke-width="1.0" stroke-linecap="round" stroke-linejoin="round"/>
<path d="M164.0 138.4 L156.2 146.2" fill="none" stroke="#00ffff" stroke-width="1.0" stroke-linecap="round" stroke-linejoin="round"/>
<path d="M163.7 138.0 L155.9 142.5" fill="none" stroke="#00ffff" stroke-width="1.0" stroke-linecap="round" stroke-linejoin="round"/>
<path d="M164.9 138.9 L162.6 147.6" fill="none" stroke="#00ffff" stroke-width="1.0" stroke-linecap="round" stroke-linejoin="round"/>
<path d="M165.9 138.9 L168.6 149.1" fill="none" stroke="#00ffff" stroke-width="1.0" stroke-linecap="round" stroke-linejoin="round"/>
<path d="M166.4 138.7 L171.4 147.4" fill="none" stroke="#00ffff" stroke-width="1.0" stroke-linecap="round" stroke-linejoin="round"/>
<path d="M165.4 139.0 L165.4 149.5" fill="none" stroke="#00ffff" stroke-width="1.0" stroke-linecap="round" stroke-linejoin="round"/>
<path d="M166.7 138.5 L171.4 143.7" fill="none" stroke="#00ffff" stroke-width="1.0" stroke-linecap="round" stroke-linejoin="round"/>
<path d="M162.5 134.5 L165.5 135.2 L168 133.8 L168.3 136.5 L170 138.5 L167.5 139.2 L166.5 141.5 L164.5 139.5 L161.5 139.5 L163 137.2Z" fill="#00ffff"/>
<path d="M181.6 134.7 L184.7 130.5 L190.5 128.5 L192.5 127 L196.9 123.2 L202.6 122.3 L204.5 124.5 L206.6 123.8 L212.3 123 L217.1 123.8 L218.6 127.4 L219.5 131 L218 133 L222.5 133.8 L224.6 137.6 L224.2 142.5 L219.6 145.3 L216 143.5 L215.4 147 L211.8 150.6 L207 150.6 L203.1 152.1 L195.4 152.5 L191.2 148.7 L191 143.5 L188.6 143.8 L183.5 140.7Z" fill="#ffff00" stroke="#00ffff" stroke-width="1.0" stroke-linejoin="round"/>
<path d="M192.9 126.6 L196.9 123.4 L202.6 122.6 L204.2 125.8 L203.4 130.6 L201 133.1 L196.1 132.3 L192.1 128.2Z" fill="#ffff00" stroke="#00ffff" stroke-width="1" stroke-linejoin="round"/>
<path d="M204.2 125.8 L206.6 124.2 L212.3 123.4 L217.1 124.2 L218.3 127.4 L219.1 130.6 L215.5 133.1 L210.6 133.9 L206.6 131 L204.2 130.6Z" fill="#ffff00" stroke="#00ffff" stroke-width="1" stroke-linejoin="round"/>
<path d="M181.8 135.7 L184.7 130.8 L190.5 128.9 L196.8 131.8 L198.7 135.7 L192.5 141 L188.6 143.4 L183.7 140.5Z" fill="#ffff00" stroke="#00ffff" stroke-width="1" stroke-linejoin="round"/>
<path d="M212.8 136.6 L216.7 133.7 L222.5 134.2 L224.4 137.6 L223.9 142.5 L219.6 144.9 L215.7 142.5Z" fill="#ffff00" stroke="#00ffff" stroke-width="1" stroke-linejoin="round"/>
<path d="M208.4 141.5 L206 138.6 L211.8 138.1 L215.7 142.5 L215.2 146.8 L211.8 150.2 L207 150.2 L207 148.3Z" fill="#ffff00" stroke="#00ffff" stroke-width="1" stroke-linejoin="round"/>
<path d="M191.5 142.9 L198.3 137.1 L205 137.6 L208.4 141.5 L207 148.3 L203.1 151.7 L195.4 152.1 L191.5 148.7Z" fill="#ffff00" stroke="#00ffff" stroke-width="1" stroke-linejoin="round"/>
<path d="M185.5 139.5 L190 136.5 L195.5 135.5" fill="none" stroke="#00ffff" stroke-width="1.2" stroke-linecap="round" stroke-linejoin="round"/>
<path d="M196.5 141 L200.5 139 L205.5 139" fill="none" stroke="#00ffff" stroke-width="1.2" stroke-linecap="round" stroke-linejoin="round"/>
<path d="M213.5 138 L217.5 137 L221 139" fill="none" stroke="#00ffff" stroke-width="1.2" stroke-linecap="round" stroke-linejoin="round"/>
<path d="M199.5 134 L202.5 132.3 L203.6 129.5 L205.2 131.8 L206.6 130.6 L207.6 132.2 L209.4 131.4 L209 133.4 L213 134.8 L209.4 136 L207 138.3 L204.8 137.2 L202 138.4 L201.6 136.2 L198 136Z" fill="#00ffff"/>
</g>
<g id="lace">
<path d="M153.5 737.7 L156.4 746.5 L156.6 758.1 L153.2 768.2 L150.8 771.5" fill="none" stroke="#00ff00" stroke-width="2.6" stroke-linecap="round" stroke-linejoin="round"/>
<path d="M141.1 710.2 L144.0 709 L146.2 710.9 L149.8 713.1 L151.3 717.4 L154.9 723.2 L158.5 727.6 L159.3 732.7 L157.1 736.3 L152.7 738 L147.7 738 L144.0 735.6 L142.6 731.2 L142.9 724.7 L141.9 718.9 L140.0 715.2Z" fill="#00ff00"/>
<path d="M157.1 756.6 L158.5 747.9 L164.4 742.1 L167.5 739.9 L167.3 743.5 L164.4 749.4 L160.0 754.4Z" fill="#00ff00"/>
<path d="M153.5 758.1 L150.6 752.3 L146.2 748.6 L141.9 749.4 L139.0 752.3 L139.7 755.6 L143.3 754.6 L147.3 756.2 L150.0 761 L151.6 766 L154.5 764Z" fill="#00ff00"/>
<path d="M181.9 737.7 L184.8 746.5 L185.0 758.1 L181.6 768.2 L179.2 771.5" fill="none" stroke="#00ff00" stroke-width="2.6" stroke-linecap="round" stroke-linejoin="round"/>
<path d="M169.5 710.2 L172.4 709 L174.6 710.9 L178.2 713.1 L179.7 717.4 L183.3 723.2 L186.9 727.6 L187.7 732.7 L185.5 736.3 L181.1 738 L176.1 738 L172.4 735.6 L171.0 731.2 L171.3 724.7 L170.3 718.9 L168.4 715.2Z" fill="#00ff00"/>
<path d="M185.5 756.6 L186.9 747.9 L192.8 742.1 L195.9 739.9 L195.7 743.5 L192.8 749.4 L188.4 754.4Z" fill="#00ff00"/>
<path d="M181.9 758.1 L179.0 752.3 L174.6 748.6 L170.3 749.4 L167.4 752.3 L168.1 755.6 L171.7 754.6 L175.7 756.2 L178.4 761 L180.0 766 L182.9 764Z" fill="#00ff00"/>
<path d="M210.3 737.7 L213.2 746.5 L213.4 758.1 L210.0 768.2 L207.6 771.5" fill="none" stroke="#00ff00" stroke-width="2.6" stroke-linecap="round" stroke-linejoin="round"/>
<path d="M197.9 710.2 L200.8 709 L203.0 710.9 L206.6 713.1 L208.1 717.4 L211.7 723.2 L215.3 727.6 L216.1 732.7 L213.9 736.3 L209.5 738 L204.5 738 L200.8 735.6 L199.4 731.2 L199.7 724.7 L198.7 718.9 L196.8 715.2Z" fill="#00ff00"/>
<path d="M213.9 756.6 L215.3 747.9 L221.2 742.1 L224.3 739.9 L224.1 743.5 L221.2 749.4 L216.8 754.4Z" fill="#00ff00"/>
<path d="M210.3 758.1 L207.4 752.3 L203.0 748.6 L198.7 749.4 L195.8 752.3 L196.5 755.6 L200.1 754.6 L204.1 756.2 L206.8 761 L208.4 766 L211.3 764Z" fill="#00ff00"/>
<path d="M238.7 737.7 L241.6 746.5 L241.8 758.1 L238.4 768.2 L236.0 771.5" fill="none" stroke="#00ff00" stroke-width="2.6" stroke-linecap="round" stroke-linejoin="round"/>
<path d="M226.3 710.2 L229.2 709 L231.4 710.9 L235.0 713.1 L236.5 717.4 L240.1 723.2 L243.7 727.6 L244.5 732.7 L242.3 736.3 L237.9 738 L232.9 738 L229.2 735.6 L227.8 731.2 L228.1 724.7 L227.1 718.9 L225.2 715.2Z" fill="#00ff00"/>
<path d="M242.3 756.6 L243.7 747.9 L249.6 742.1 L252.7 739.9 L252.5 743.5 L249.6 749.4 L245.2 754.4Z" fill="#00ff00"/>
<path d="M238.7 758.1 L235.8 752.3 L231.4 748.6 L227.1 749.4 L224.2 752.3 L224.9 755.6 L228.5 754.6 L232.5 756.2 L235.2 761 L236.8 766 L239.7 764Z" fill="#00ff00"/>
<path d="M267.1 737.7 L270.0 746.5 L270.2 758.1 L266.8 768.2 L264.4 771.5" fill="none" stroke="#00ff00" stroke-width="2.6" stroke-linecap="round" stroke-linejoin="round"/>
<path d="M254.7 710.2 L257.6 709 L259.8 710.9 L263.4 713.1 L264.9 717.4 L268.5 723.2 L272.1 727.6 L272.9 732.7 L270.7 736.3 L266.3 738 L261.3 738 L257.6 735.6 L256.2 731.2 L256.5 724.7 L255.5 718.9 L253.6 715.2Z" fill="#00ff00"/>
<path d="M270.7 756.6 L272.1 747.9 L278.0 742.1 L281.1 739.9 L280.9 743.5 L278.0 749.4 L273.6 754.4Z" fill="#00ff00"/>
<path d="M267.1 758.1 L264.2 752.3 L259.8 748.6 L255.5 749.4 L252.6 752.3 L253.3 755.6 L256.9 754.6 L260.9 756.2 L263.6 761 L265.2 766 L268.1 764Z" fill="#00ff00"/>
<path d="M122.5 853 L128 842 L134 831 L131 829 L128.5 826 L127 821 L122.5 821 L122.5 815 L127 815 L127 812 L122 810 L120.3 807.5 L123 804 L127 800 L127.5 795 L129 790 L128.5 786 L131 781 L133.6 777 L135.2 777 L137.0 773.2 L139.8 770.6 L141.8 770 L149.8 770 L151.8 770.6 L154.6 773.2 L156.4 777 L157.6 780 L159.0 782 L161.0 782 L162.4 780 L163.6 777 L165.4 773.2 L168.2 770.6 L170.2 770 L178.2 770 L180.2 770.6 L183.0 773.2 L184.8 777 L186.0 780 L187.4 782 L189.4 782 L190.8 780 L192.0 777 L193.8 773.2 L196.6 770.6 L198.6 770 L206.6 770 L208.6 770.6 L211.4 773.2 L213.2 777 L214.4 780 L215.8 782 L217.8 782 L219.2 780 L220.4 777 L222.2 773.2 L225.0 770.6 L227.0 770 L235.0 770 L237.0 770.6 L239.8 773.2 L241.6 777 L242.8 780 L244.2 782 L246.2 782 L247.6 780 L248.8 777 L250.6 773.2 L253.4 770.6 L255.4 770 L263.4 770 L265.4 770.6 L268.2 773.2 L270.0 777 L271.2 780 L272.5 781 L274 783.5 L276 787 L276.3 794 L273.5 800 L268.5 803 L266 808 L267 812 L270 817 L272 830 L276 842 L281 853Z" fill="#0000ff"/>
<path d="M142 789h1v1h-1zM137 791h1v1h-1zM137 790h1v1h-1zM144 787h1v1h-1zM144 783h1v1h-1zM139 788h1v1h-1zM148 787h1v1h-1zM135 790h1v1h-1zM139 790h1v1h-1zM152 790h1v1h-1zM149 787h1v1h-1zM139 792h1v1h-1zM150 787h1v1h-1zM148 786h1v1h-1zM153 787h1v1h-1zM148 786h1v1h-1zM151 789h1v1h-1zM138 791h1v1h-1zM138 788h1v1h-1zM150 785h1v1h-1zM153 791h1v1h-1zM148 785h1v1h-1zM155 787h1v1h-1zM149 789h1v1h-1zM148 838h1v1h-1zM152 824h1v1h-1zM144 832h1v1h-1zM137 828h1v1h-1zM140 821h1v1h-1zM138 834h1v1h-1zM139 824h1v1h-1zM144 836h1v1h-1zM138 828h1v1h-1zM147 836h1v1h-1zM152 835h1v1h-1zM142 827h1v1h-1zM143 836h1v1h-1zM154 822h1v1h-1zM140 823h1v1h-1zM141 828h1v1h-1zM147 824h1v1h-1zM137 827h1v1h-1zM143 830h1v1h-1zM154 832h1v1h-1zM146 831h1v1h-1zM149 820h1v1h-1zM153 834h1v1h-1zM153 834h1v1h-1zM144 827h1v1h-1zM139 831h1v1h-1zM138 820h1v1h-1zM141 822h1v1h-1zM143 820h1v1h-1zM137 822h1v1h-1zM154 812h1v1h-1zM156 812h1v1h-1zM154 813h1v1h-1zM156 813h1v1h-1zM166 790h1v1h-1zM183 789h1v1h-1zM169 788h1v1h-1zM165 790h1v1h-1zM173 785h1v1h-1zM166 790h1v1h-1zM180 789h1v1h-1zM184 791h1v1h-1zM175 788h1v1h-1zM185 792h1v1h-1zM169 787h1v1h-1zM181 788h1v1h-1zM171 788h1v1h-1zM185 792h1v1h-1zM182 787h1v1h-1zM175 785h1v1h-1zM166 792h1v1h-1zM180 784h1v1h-1zM185 791h1v1h-1zM171 787h1v1h-1zM168 790h1v1h-1zM184 789h1v1h-1zM179 784h1v1h-1zM179 785h1v1h-1zM179 828h1v1h-1zM168 834h1v1h-1zM171 834h1v1h-1zM183 827h1v1h-1zM172 837h1v1h-1zM178 822h1v1h-1zM167 822h1v1h-1zM181 834h1v1h-1zM168 835h1v1h-1zM183 831h1v1h-1zM172 829h1v1h-1zM168 819h1v1h-1zM183 831h1v1h-1zM175 837h1v1h-1zM173 836h1v1h-1zM180 823h1v1h-1zM170 825h1v1h-1zM170 830h1v1h-1zM170 827h1v1h-1zM168 836h1v1h-1zM172 828h1v1h-1zM176 836h1v1h-1zM173 836h1v1h-1zM174 829h1v1h-1zM175 819h1v1h-1zM173 822h1v1h-1zM165 834h1v1h-1zM168 828h1v1h-1zM178 830h1v1h-1zM171 829h1v1h-1zM183 812h1v1h-1zM184 812h1v1h-1zM183 813h1v1h-1zM184 813h1v1h-1zM204 783h1v1h-1zM204 786h1v1h-1zM209 788h1v1h-1zM210 786h1v1h-1zM205 786h1v1h-1zM207 787h1v1h-1zM202 783h1v1h-1zM213 788h1v1h-1zM204 784h1v1h-1zM196 791h1v1h-1zM195 791h1v1h-1zM207 786h1v1h-1zM194 789h1v1h-1zM193 789h1v1h-1zM195 786h1v1h-1zM202 783h1v1h-1zM195 789h1v1h-1zM199 787h1v1h-1zM207 789h1v1h-1zM201 788h1v1h-1zM206 785h1v1h-1zM214 793h1v1h-1zM195 790h1v1h-1zM208 788h1v1h-1zM201 836h1v1h-1zM208 824h1v1h-1zM196 836h1v1h-1zM204 832h1v1h-1zM195 820h1v1h-1zM206 827h1v1h-1zM195 837h1v1h-1zM205 834h1v1h-1zM195 835h1v1h-1zM195 835h1v1h-1zM202 825h1v1h-1zM204 837h1v1h-1zM198 821h1v1h-1zM203 824h1v1h-1zM196 822h1v1h-1zM195 823h1v1h-1zM199 825h1v1h-1zM207 825h1v1h-1zM203 822h1v1h-1zM200 819h1v1h-1zM198 819h1v1h-1zM207 829h1v1h-1zM197 828h1v1h-1zM210 821h1v1h-1zM208 827h1v1h-1zM203 835h1v1h-1zM201 829h1v1h-1zM206 838h1v1h-1zM200 835h1v1h-1zM206 831h1v1h-1zM211 812h1v1h-1zM212 812h1v1h-1zM211 813h1v1h-1zM212 813h1v1h-1zM229 786h1v1h-1zM225 792h1v1h-1zM226 788h1v1h-1zM240 788h1v1h-1zM226 788h1v1h-1zM230 787h1v1h-1zM224 786h1v1h-1zM232 788h1v1h-1zM227 786h1v1h-1zM228 786h1v1h-1zM224 787h1v1h-1zM226 789h1v1h-1zM224 793h1v1h-1zM224 787h1v1h-1zM237 787h1v1h-1zM239 790h1v1h-1zM239 794h1v1h-1zM234 789h1v1h-1zM240 790h1v1h-1zM237 790h1v1h-1zM231 784h1v1h-1zM239 789h1v1h-1zM236 785h1v1h-1zM223 793h1v1h-1zM224 835h1v1h-1zM232 831h1v1h-1zM233 832h1v1h-1zM231 819h1v1h-1zM236 833h1v1h-1zM231 829h1v1h-1zM234 820h1v1h-1zM235 824h1v1h-1zM223 824h1v1h-1zM235 823h1v1h-1zM235 838h1v1h-1zM231 826h1v1h-1zM231 832h1v1h-1zM236 831h1v1h-1zM234 820h1v1h-1zM225 824h1v1h-1zM235 825h1v1h-1zM232 819h1v1h-1zM223 824h1v1h-1zM234 832h1v1h-1zM234 825h1v1h-1zM231 828h1v1h-1zM230 821h1v1h-1zM238 823h1v1h-1zM240 837h1v1h-1zM222 828h1v1h-1zM237 837h1v1h-1zM230 824h1v1h-1zM226 837h1v1h-1zM226 830h1v1h-1zM240 812h1v1h-1zM241 812h1v1h-1zM240 813h1v1h-1zM241 813h1v1h-1zM251 790h1v1h-1zM250 789h1v1h-1zM269 789h1v1h-1zM268 789h1v1h-1zM250 793h1v1h-1zM255 788h1v1h-1zM254 784h1v1h-1zM266 785h1v1h-1zM269 791h1v1h-1zM255 787h1v1h-1zM270 792h1v1h-1zM258 786h1v1h-1zM249 789h1v1h-1zM267 791h1v1h-1zM260 787h1v1h-1zM270 791h1v1h-1zM263 785h1v1h-1zM261 783h1v1h-1zM265 788h1v1h-1zM263 786h1v1h-1zM267 792h1v1h-1zM256 788h1v1h-1zM268 793h1v1h-1zM254 786h1v1h-1zM253 822h1v1h-1zM254 836h1v1h-1zM259 823h1v1h-1zM267 838h1v1h-1zM258 822h1v1h-1zM254 821h1v1h-1zM257 821h1v1h-1zM255 824h1v1h-1zM261 836h1v1h-1zM264 827h1v1h-1zM258 829h1v1h-1zM257 825h1v1h-1zM252 824h1v1h-1zM268 821h1v1h-1zM259 831h1v1h-1zM266 823h1v1h-1zM255 824h1v1h-1zM258 827h1v1h-1zM268 835h1v1h-1zM266 819h1v1h-1zM251 832h1v1h-1zM267 828h1v1h-1zM261 819h1v1h-1zM257 837h1v1h-1zM265 835h1v1h-1zM268 824h1v1h-1zM252 822h1v1h-1zM260 832h1v1h-1zM267 833h1v1h-1zM262 834h1v1h-1z" fill="#fff"/>
<path d="M129.9 833.1L119.0 852.6M130.3 832.2L122.0 853.5M130.7 831.3L125.2 853.5M131.2 830.4L128.4 853.5M131.6 829.5L131.6 853.5M132.0 830.4L134.8 853.5M132.5 831.3L138.0 853.5M132.9 832.2L141.2 853.5M133.3 833.1L144.2 852.6M158.3 833.1L147.4 852.6M158.7 832.2L150.4 853.5M159.1 831.3L153.6 853.5M159.6 830.4L156.8 853.5M160.0 829.5L160.0 853.5M160.4 830.4L163.2 853.5M160.9 831.3L166.4 853.5M161.3 832.2L169.6 853.5M161.7 833.1L172.6 852.6M186.7 833.1L175.8 852.6M187.1 832.2L178.8 853.5M187.5 831.3L182.0 853.5M188.0 830.4L185.2 853.5M188.4 829.5L188.4 853.5M188.8 830.4L191.6 853.5M189.3 831.3L194.8 853.5M189.7 832.2L198.0 853.5M190.1 833.1L201.0 852.6M215.1 833.1L204.2 852.6M215.5 832.2L207.2 853.5M215.9 831.3L210.4 853.5M216.4 830.4L213.6 853.5M216.8 829.5L216.8 853.5M217.2 830.4L220.0 853.5M217.7 831.3L223.2 853.5M218.1 832.2L226.4 853.5M218.5 833.1L229.4 852.6M243.5 833.1L232.6 852.6M243.9 832.2L235.6 853.5M244.3 831.3L238.8 853.5M244.8 830.4L242.0 853.5M245.2 829.5L245.2 853.5M245.6 830.4L248.4 853.5M246.1 831.3L251.6 853.5M246.5 832.2L254.8 853.5M246.9 833.1L257.8 852.6M271.9 833.1L261.0 852.6M272.3 832.2L264.0 853.5M272.7 831.3L267.2 853.5M273.2 830.4L270.4 853.5M273.6 829.5L273.6 853.5M274.0 830.4L276.8 853.5M274.5 831.3L280.0 853.5M274.9 832.2L283.2 853.5M275.3 833.1L286.2 852.6" stroke="#fff" stroke-width="0.95" fill="none" clip-path="url(#fr)"/>
<clipPath id="fr"><path d="M134 831 L122.5 853.5 H281 L272.5 831 Z"/></clipPath>
<path d="M123 849.5H281" stroke="#0000ff" stroke-width="2.5" stroke-dasharray="5 1 3 1 7 1 2 1" fill="none"/>
<rect x="124" y="817" width="1.5" height="1.5" fill="#fff"/>
<path d="M126.5 783 L129 786 L130 784.5" fill="none" stroke="#00ff00" stroke-width="0.8" stroke-linecap="round" stroke-linejoin="round"/>
</g>
<g shape-rendering="crispEdges">
<rect x="4.5" y="4.5" width="614" height="856" fill="none" stroke="#000"/>
<line x1="4" y1="88.5" x2="619" y2="88.5" stroke="#000" stroke-width="1"/>
<line x1="536.5" y1="4" x2="536.5" y2="88" stroke="#000" stroke-width="1"/>
<line x1="400.5" y1="88" x2="400.5" y2="860" stroke="#000" stroke-width="1"/>
<line x1="400" y1="261.5" x2="619" y2="261.5" stroke="#000" stroke-width="1"/>
<line x1="3" y1="141.5" x2="399" y2="141.5" stroke="#f00" stroke-width="1"/>
<line x1="224.5" y1="89" x2="224.5" y2="859" stroke="#f00" stroke-width="1"/>
<line x1="273.5" y1="89" x2="273.5" y2="859" stroke="#0f0" stroke-width="1"/>
<line x1="3" y1="847.5" x2="399" y2="847.5" stroke="#0f0" stroke-width="1"/>
</g>
<g id="barcode" fill="#000">
<rect x="9" y="37" width="1" height="20"/>
<rect x="11" y="37" width="1" height="20"/>
<rect x="13" y="37" width="4" height="20"/>
<rect x="19" y="37" width="3" height="20"/>
<rect x="24" y="37" width="2" height="20"/>
<rect x="27" y="37" width="1" height="20"/>
<rect x="29" y="37" width="3" height="20"/>
<rect x="34" y="37" width="3" height="20"/>
<rect x="40" y="37" width="3" height="20"/>
<rect x="45" y="37" width="3" height="20"/>
<rect x="50" y="37" width="3" height="20"/>
<rect x="55" y="37" width="3" height="20"/>
<rect x="60" y="37" width="3" height="20"/>
<rect x="65" y="37" width="3" height="20"/>
<rect x="70" y="37" width="2" height="20"/>
<rect x="74" y="37" width="4" height="20"/>
<rect x="81" y="37" width="3" height="20"/>
<rect x="86" y="37" width="3" height="20"/>
<rect x="91" y="37" width="2" height="20"/>
<rect x="96" y="37" width="3" height="20"/>
<rect x="101" y="37" width="3" height="20"/>
<rect x="105" y="37" width="2" height="20"/>
<rect x="108" y="37" width="1" height="20"/>
<rect x="112" y="37" width="4" height="20"/>
<rect x="117" y="37" width="2" height="20"/>
<rect x="122" y="37" width="3" height="20"/>
<rect x="128" y="37" width="1" height="20"/>
<rect x="130" y="37" width="1" height="20"/>
<rect x="132" y="37" width="1" height="20"/>
<rect x="134" y="37" width="1" height="20"/>
<rect x="136" y="37" width="4" height="20"/>
</g>
<g id="txt" font-family='"Liberation Sans", "Noto Sans CJK SC", sans-serif'>
<text x="7.5" y="18.4" font-size="15.5" font-weight="bold" textLength="80" lengthAdjust="spacingAndGlyphs" style="stroke-width:.5px">生产作业图</text>
<text y="33.5" font-size="10.5"><tspan x="6" textLength="34.5" lengthAdjust="spacingAndGlyphs">Wilcom(</tspan><tspan x="40.5" font-size="9.5" font-weight="500" letter-spacing="1.5">汇京</tspan><tspan x="62">)</tspan><tspan x="66.5" font-size="9.5" font-weight="500" letter-spacing="1.5">装饰工作室</tspan></text>
<text y="71.5" font-size="10.5"><tspan x="6" font-size="9.5" font-weight="500" letter-spacing="1.5">花版:</tspan><tspan x="36" textLength="53.5" lengthAdjust="spacingAndGlyphs">1695609.emb</tspan></text>
<text y="85.5" font-size="10.5"><tspan x="6" font-size="9.5" font-weight="500" letter-spacing="1.5">色位:</tspan><tspan x="36" textLength="44" lengthAdjust="spacingAndGlyphs">Colorway 1</tspan></text>
<text y="14.5" font-size="10.5"><tspan x="538" font-size="9.5" font-weight="500" letter-spacing="1.5">针数:</tspan><tspan x="567.3" textLength="23.6" lengthAdjust="spacingAndGlyphs">70999</tspan></text>
<text y="27.5" font-size="10.5"><tspan x="538" font-size="9.5" font-weight="500" letter-spacing="1.5">颜色:</tspan><tspan x="567.3" textLength="8" lengthAdjust="spacingAndGlyphs">11</tspan></text>
<text y="40.5" font-size="10.5"><tspan x="538" font-size="9.5" font-weight="500" letter-spacing="1.5">高度:</tspan><tspan x="567.3" textLength="43.7" lengthAdjust="spacingAndGlyphs">1600.6 mm</tspan></text>
<text y="54.0" font-size="10.5"><tspan x="538" font-size="9.5" font-weight="500" letter-spacing="1.5">宽度:</tspan><tspan x="567.3" textLength="39.8" lengthAdjust="spacingAndGlyphs">338.6 mm</tspan></text>
<text y="67.5" font-size="10.5"><tspan x="538" font-size="9.5" font-weight="500" letter-spacing="1.5">比例:</tspan><tspan x="567.3" textLength="17" lengthAdjust="spacingAndGlyphs">0.16</tspan></text>
<text y="98.5" font-size="9.5" font-weight="500"><tspan x="402" letter-spacing="0.6">停止顺序</tspan><tspan x="444.6">:</tspan></text>
<text x="402" y="110.5" font-size="10.5" font-weight="bold" textLength="4.5" lengthAdjust="spacingAndGlyphs">#</text>
<rect x="402" y="112" width="4" height="1" fill="#000" shape-rendering="crispEdges"/>
<text x="420.6" y="110.5" font-size="10.5" font-weight="bold" textLength="13.2" lengthAdjust="spacingAndGlyphs">N#</text>
<rect x="421" y="112" width="13" height="1" fill="#000" shape-rendering="crispEdges"/>
<text x="461.6" y="110.5" font-size="10.5" font-weight="bold" textLength="14.2" lengthAdjust="spacingAndGlyphs">St.</text>
<rect x="462" y="112" width="14" height="1" fill="#000" shape-rendering="crispEdges"/>
<text x="480.2" y="110.5" font-size="9.5" font-weight="bold" letter-spacing="1.5">代码</text>
<rect x="480" y="112" width="21" height="1" fill="#000" shape-rendering="crispEdges"/>
<text x="506.8" y="110.5" font-size="9.5" font-weight="bold" letter-spacing="1.5">描述</text>
<rect x="507" y="112" width="21" height="1" fill="#000" shape-rendering="crispEdges"/>
<text x="558.4" y="110.5" font-size="10.5" font-weight="bold" textLength="28.2" lengthAdjust="spacingAndGlyphs">Brand</text>
<rect x="558" y="112" width="28" height="1" fill="#000" shape-rendering="crispEdges"/>
<text x="594.8" y="110.5" font-size="9.5" font-weight="bold" letter-spacing="1.5">元素</text>
<rect x="595" y="112" width="21" height="1" fill="#000" shape-rendering="crispEdges"/>
<text x="402.3" y="124.7" font-size="10.5" textLength="7.25" lengthAdjust="spacingAndGlyphs">1.</text>
<text x="420.6" y="124.7" font-size="10.5" textLength="4.15" lengthAdjust="spacingAndGlyphs">1</text>
<rect x="437.5" y="115.5" width="9" height="9" fill="#00ff00" stroke="#000" shape-rendering="crispEdges"/>
<text x="473.8" y="124.7" font-size="10.5" text-anchor="end" textLength="18.6" lengthAdjust="spacingAndGlyphs">6440</text>
<text x="500" y="124.7" font-size="10.5" text-anchor="end" textLength="4.15" lengthAdjust="spacingAndGlyphs">1</text>
<text x="506.8" y="124.7" font-size="10.5" textLength="23" lengthAdjust="spacingAndGlyphs">Green</text>
<text x="558.6" y="124.7" font-size="10.5" textLength="28.4" lengthAdjust="spacingAndGlyphs">Default</text>
<text x="402.3" y="138.0" font-size="10.5" textLength="7.25" lengthAdjust="spacingAndGlyphs">2.</text>
<text x="420.6" y="138.0" font-size="10.5" textLength="4.15" lengthAdjust="spacingAndGlyphs">2</text>
<rect x="437.5" y="128.5" width="9" height="9" fill="#0000ff" stroke="#000" shape-rendering="crispEdges"/>
<text x="473.8" y="138.0" font-size="10.5" text-anchor="end" textLength="23.35" lengthAdjust="spacingAndGlyphs">37917</text>
<text x="500" y="138.0" font-size="10.5" text-anchor="end" textLength="4.15" lengthAdjust="spacingAndGlyphs">2</text>
<text x="506.8" y="138.0" font-size="10.5" textLength="16" lengthAdjust="spacingAndGlyphs">Blue</text>
<text x="558.6" y="138.0" font-size="10.5" textLength="28.4" lengthAdjust="spacingAndGlyphs">Default</text>
<text x="402.3" y="151.29999999999998" font-size="10.5" textLength="7.25" lengthAdjust="spacingAndGlyphs">3.</text>
<text x="420.6" y="151.29999999999998" font-size="10.5" textLength="4.15" lengthAdjust="spacingAndGlyphs">3</text>
<rect x="437.5" y="142.5" width="9" height="9" fill="#ff0000" stroke="#000" shape-rendering="crispEdges"/>
<text x="473.8" y="151.29999999999998" font-size="10.5" text-anchor="end" textLength="18.6" lengthAdjust="spacingAndGlyphs">2446</text>
<text x="500" y="151.29999999999998" font-size="10.5" text-anchor="end" textLength="4.15" lengthAdjust="spacingAndGlyphs">3</text>
<text x="506.8" y="151.29999999999998" font-size="10.5" textLength="15" lengthAdjust="spacingAndGlyphs">Red</text>
<text x="558.6" y="151.29999999999998" font-size="10.5" textLength="28.4" lengthAdjust="spacingAndGlyphs">Default</text>
<text x="402.3" y="164.6" font-size="10.5" textLength="7.25" lengthAdjust="spacingAndGlyphs">4.</text>
<text x="420.6" y="164.6" font-size="10.5" textLength="4.15" lengthAdjust="spacingAndGlyphs">4</text>
<rect x="437.5" y="155.5" width="9" height="9" fill="#ffff00" stroke="#000" shape-rendering="crispEdges"/>
<text x="473.8" y="164.6" font-size="10.5" text-anchor="end" textLength="18.6" lengthAdjust="spacingAndGlyphs">4862</text>
<text x="500" y="164.6" font-size="10.5" text-anchor="end" textLength="4.15" lengthAdjust="spacingAndGlyphs">4</text>
<text x="506" y="164.6" font-size="10.5" textLength="26" lengthAdjust="spacingAndGlyphs">Yellow</text>
<text x="558.6" y="164.6" font-size="10.5" textLength="28.4" lengthAdjust="spacingAndGlyphs">Default</text>
<text x="402.3" y="177.89999999999998" font-size="10.5" textLength="7.25" lengthAdjust="spacingAndGlyphs">5.</text>
<text x="420.6" y="177.89999999999998" font-size="10.5" textLength="4.15" lengthAdjust="spacingAndGlyphs">5</text>
<rect x="437.5" y="168.5" width="9" height="9" fill="#00ffff" stroke="#000" shape-rendering="crispEdges"/>
<text x="473.8" y="177.89999999999998" font-size="10.5" text-anchor="end" textLength="18.6" lengthAdjust="spacingAndGlyphs">1598</text>
<text x="500" y="177.89999999999998" font-size="10.5" text-anchor="end" textLength="4.15" lengthAdjust="spacingAndGlyphs">5</text>
<text x="506.8" y="177.89999999999998" font-size="10.5" textLength="20.5" lengthAdjust="spacingAndGlyphs">Cyan</text>
<text x="558.6" y="177.89999999999998" font-size="10.5" textLength="28.4" lengthAdjust="spacingAndGlyphs">Default</text>
<text x="402.3" y="191.2" font-size="10.5" textLength="7.25" lengthAdjust="spacingAndGlyphs">6.</text>
<text x="420.6" y="191.2" font-size="10.5" textLength="4.15" lengthAdjust="spacingAndGlyphs">6</text>
<rect x="437.5" y="182.5" width="9" height="9" fill="#ff00ff" stroke="#000" shape-rendering="crispEdges"/>
<text x="473.8" y="191.2" font-size="10.5" text-anchor="end" textLength="18.6" lengthAdjust="spacingAndGlyphs">2411</text>
<text x="500" y="191.2" font-size="10.5" text-anchor="end" textLength="4.15" lengthAdjust="spacingAndGlyphs">6</text>
<text x="506.8" y="191.2" font-size="10.5" textLength="35" lengthAdjust="spacingAndGlyphs">Magenta</text>
<text x="558.6" y="191.2" font-size="10.5" textLength="28.4" lengthAdjust="spacingAndGlyphs">Default</text>
<text x="402.3" y="204.5" font-size="10.5" textLength="7.25" lengthAdjust="spacingAndGlyphs">7.</text>
<text x="420.6" y="204.5" font-size="10.5" textLength="4.15" lengthAdjust="spacingAndGlyphs">7</text>
<rect x="437.5" y="195.5" width="9" height="9" fill="#33cc66" stroke="#000" shape-rendering="crispEdges"/>
<text x="473.8" y="204.5" font-size="10.5" text-anchor="end" textLength="18.6" lengthAdjust="spacingAndGlyphs">4875</text>
<text x="500" y="204.5" font-size="10.5" text-anchor="end" textLength="4.15" lengthAdjust="spacingAndGlyphs">7</text>
<text x="506.8" y="204.5" font-size="10.5" textLength="41" lengthAdjust="spacingAndGlyphs">Leaf green</text>
<text x="558.6" y="204.5" font-size="10.5" textLength="28.4" lengthAdjust="spacingAndGlyphs">Default</text>
<text x="402.3" y="217.79999999999998" font-size="10.5" textLength="7.25" lengthAdjust="spacingAndGlyphs">8.</text>
<text x="420.6" y="217.79999999999998" font-size="10.5" textLength="4.15" lengthAdjust="spacingAndGlyphs">8</text>
<rect x="437.5" y="208.5" width="9" height="9" fill="#b47d35" stroke="#000" shape-rendering="crispEdges"/>
<text x="473.8" y="217.79999999999998" font-size="10.5" text-anchor="end" textLength="18.6" lengthAdjust="spacingAndGlyphs">1574</text>
<text x="500" y="217.79999999999998" font-size="10.5" text-anchor="end" textLength="4.15" lengthAdjust="spacingAndGlyphs">8</text>
<text x="506.8" y="217.79999999999998" font-size="10.5" textLength="25" lengthAdjust="spacingAndGlyphs">Brown</text>
<text x="558.6" y="217.79999999999998" font-size="10.5" textLength="28.4" lengthAdjust="spacingAndGlyphs">Default</text>
<text x="402.3" y="231.1" font-size="10.5" textLength="7.25" lengthAdjust="spacingAndGlyphs">9.</text>
<text x="420.6" y="231.1" font-size="10.5" textLength="4.15" lengthAdjust="spacingAndGlyphs">9</text>
<rect x="437.5" y="221.5" width="9" height="9" fill="#006633" stroke="#000" shape-rendering="crispEdges"/>
<text x="473.8" y="231.1" font-size="10.5" text-anchor="end" textLength="18.6" lengthAdjust="spacingAndGlyphs">2440</text>
<text x="500" y="231.1" font-size="10.5" text-anchor="end" textLength="4.15" lengthAdjust="spacingAndGlyphs">9</text>
<text x="506.8" y="231.1" font-size="10.5" textLength="43.4" lengthAdjust="spacingAndGlyphs">Dark green</text>
<text x="558.6" y="231.1" font-size="10.5" textLength="28.4" lengthAdjust="spacingAndGlyphs">Default</text>
<text x="402.3" y="244.39999999999998" font-size="10.5" textLength="12.0" lengthAdjust="spacingAndGlyphs">10.</text>
<text x="420.6" y="244.39999999999998" font-size="10.5" textLength="8.9" lengthAdjust="spacingAndGlyphs">10</text>
<rect x="437.5" y="235.5" width="9" height="9" fill="#cc3366" stroke="#000" shape-rendering="crispEdges"/>
<text x="473.8" y="244.39999999999998" font-size="10.5" text-anchor="end" textLength="18.6" lengthAdjust="spacingAndGlyphs">4863</text>
<text x="500" y="244.39999999999998" font-size="10.5" text-anchor="end" textLength="8.9" lengthAdjust="spacingAndGlyphs">10</text>
<text x="506.8" y="244.39999999999998" font-size="10.5" textLength="33.5" lengthAdjust="spacingAndGlyphs">Dark red</text>
<text x="558.6" y="244.39999999999998" font-size="10.5" textLength="28.4" lengthAdjust="spacingAndGlyphs">Default</text>
<text x="402.3" y="257.7" font-size="10.5" textLength="12.0" lengthAdjust="spacingAndGlyphs">11.</text>
<text x="420.6" y="257.7" font-size="10.5" textLength="8.9" lengthAdjust="spacingAndGlyphs">11</text>
<rect x="437.5" y="248.5" width="9" height="9" fill="#ff9933" stroke="#000" shape-rendering="crispEdges"/>
<text x="473.8" y="257.7" font-size="10.5" text-anchor="end" textLength="18.6" lengthAdjust="spacingAndGlyphs">1571</text>
<text x="500" y="257.7" font-size="10.5" text-anchor="end" textLength="8.9" lengthAdjust="spacingAndGlyphs">11</text>
<text x="506.8" y="257.7" font-size="10.5" textLength="28" lengthAdjust="spacingAndGlyphs">Orange</text>
<text x="558.6" y="257.7" font-size="10.5" textLength="28.4" lengthAdjust="spacingAndGlyphs">Default</text>
</g>
<path d="M392.5 136 L389.5 139.5 H393" fill="none" stroke="#f00" stroke-width="1"/>
<path d="M10.5 842 V845.5 M9 845.5 H12.5" fill="none" stroke="#0f0" stroke-width="1"/>
<g id="watermark">
<path d="M470.5 813.5V680.5H585" fill="none" stroke="#dcdcdc" stroke-width="1"/>
<filter id="soft" x="-5%" y="-5%" width="110%" height="110%"><feGaussianBlur stdDeviation="0.35"/></filter>
<path d="M480.8 686.1h17.68v2.525h-17.68zM506.05 686.1h7.57v2.525h-7.57zM518.67 686.1h2.52v2.525h-2.52zM533.83 686.1h2.52v2.525h-2.52zM538.88 686.1h10.1v2.525h-10.1zM551.5 686.1h2.52v2.525h-2.52zM556.55 686.1h17.68v2.525h-17.68zM480.8 688.62h2.52v2.525h-2.52zM495.95 688.62h2.52v2.525h-2.52zM501.0 688.62h2.52v2.525h-2.52zM506.05 688.62h2.52v2.525h-2.52zM513.62 688.62h5.05v2.525h-5.05zM526.25 688.62h5.05v2.525h-5.05zM536.35 688.62h7.57v2.525h-7.57zM556.55 688.62h2.52v2.525h-2.52zM571.7 688.62h2.52v2.525h-2.52zM480.8 691.15h2.52v2.525h-2.52zM485.85 691.15h7.57v2.525h-7.57zM495.95 691.15h2.52v2.525h-2.52zM501.0 691.15h2.52v2.525h-2.52zM506.05 691.15h5.05v2.525h-5.05zM516.15 691.15h2.52v2.525h-2.52zM521.2 691.15h5.05v2.525h-5.05zM528.77 691.15h10.1v2.525h-10.1zM541.4 691.15h2.52v2.525h-2.52zM548.98 691.15h2.52v2.525h-2.52zM556.55 691.15h2.52v2.525h-2.52zM561.6 691.15h7.57v2.525h-7.57zM571.7 691.15h2.52v2.525h-2.52zM480.8 693.68h2.52v2.525h-2.52zM485.85 693.68h7.57v2.525h-7.57zM495.95 693.68h2.52v2.525h-2.52zM501.0 693.68h5.05v2.525h-5.05zM513.62 693.68h2.52v2.525h-2.52zM521.2 693.68h5.05v2.525h-5.05zM528.77 693.68h7.57v2.525h-7.57zM541.4 693.68h2.52v2.525h-2.52zM546.45 693.68h7.57v2.525h-7.57zM556.55 693.68h2.52v2.525h-2.52zM561.6 693.68h7.57v2.525h-7.57zM571.7 693.68h2.52v2.525h-2.52zM480.8 696.2h2.52v2.525h-2.52zM485.85 696.2h7.57v2.525h-7.57zM495.95 696.2h2.52v2.525h-2.52zM506.05 696.2h2.52v2.525h-2.52zM516.15 696.2h2.52v2.525h-2.52zM521.2 696.2h2.52v2.525h-2.52zM541.4 696.2h2.52v2.525h-2.52zM551.5 696.2h2.52v2.525h-2.52zM556.55 696.2h2.52v2.525h-2.52zM561.6 696.2h7.57v2.525h-7.57zM571.7 696.2h2.52v2.525h-2.52zM480.8 698.73h2.52v2.525h-2.52zM495.95 698.73h2.52v2.525h-2.52zM508.57 698.73h2.52v2.525h-2.52zM516.15 698.73h2.52v2.525h-2.52zM531.3 698.73h5.05v2.525h-5.05zM541.4 698.73h2.52v2.525h-2.52zM548.98 698.73h2.52v2.525h-2.52zM556.55 698.73h2.52v2.525h-2.52zM571.7 698.73h2.52v2.525h-2.52zM480.8 701.25h17.68v2.525h-17.68zM501.0 701.25h2.52v2.525h-2.52zM506.05 701.25h2.52v2.525h-2.52zM511.1 701.25h2.52v2.525h-2.52zM516.15 701.25h2.52v2.525h-2.52zM521.2 701.25h2.52v2.525h-2.52zM526.25 701.25h2.52v2.525h-2.52zM531.3 701.25h2.52v2.525h-2.52zM536.35 701.25h2.52v2.525h-2.52zM541.4 701.25h2.52v2.525h-2.52zM546.45 701.25h2.52v2.525h-2.52zM551.5 701.25h2.52v2.525h-2.52zM556.55 701.25h17.68v2.525h-17.68zM501.0 703.77h5.05v2.525h-5.05zM511.1 703.77h7.57v2.525h-7.57zM528.77 703.77h2.52v2.525h-2.52zM536.35 703.77h2.52v2.525h-2.52zM546.45 703.77h2.52v2.525h-2.52zM495.95 706.3h2.52v2.525h-2.52zM506.05 706.3h2.52v2.525h-2.52zM513.62 706.3h5.05v2.525h-5.05zM528.77 706.3h2.52v2.525h-2.52zM538.88 706.3h5.05v2.525h-5.05zM548.98 706.3h2.52v2.525h-2.52zM569.17 706.3h5.05v2.525h-5.05zM483.32 708.83h2.52v2.525h-2.52zM498.48 708.83h5.05v2.525h-5.05zM513.62 708.83h2.52v2.525h-2.52zM521.2 708.83h2.52v2.525h-2.52zM541.4 708.83h2.52v2.525h-2.52zM551.5 708.83h2.52v2.525h-2.52zM556.55 708.83h5.05v2.525h-5.05zM564.12 708.83h10.1v2.525h-10.1zM488.38 711.35h5.05v2.525h-5.05zM495.95 711.35h15.15v2.525h-15.15zM513.62 711.35h2.52v2.525h-2.52zM521.2 711.35h2.52v2.525h-2.52zM526.25 711.35h2.52v2.525h-2.52zM531.3 711.35h5.05v2.525h-5.05zM538.88 711.35h7.57v2.525h-7.57zM548.98 711.35h5.05v2.525h-5.05zM559.08 711.35h2.52v2.525h-2.52zM564.12 711.35h2.52v2.525h-2.52zM569.17 711.35h2.52v2.525h-2.52zM485.85 713.88h5.05v2.525h-5.05zM493.43 713.88h2.52v2.525h-2.52zM501.0 713.88h5.05v2.525h-5.05zM508.57 713.88h5.05v2.525h-5.05zM516.15 713.88h2.52v2.525h-2.52zM523.73 713.88h10.1v2.525h-10.1zM541.4 713.88h5.05v2.525h-5.05zM554.02 713.88h7.57v2.525h-7.57zM571.7 713.88h2.52v2.525h-2.52zM480.8 716.4h7.57v2.525h-7.57zM493.43 716.4h5.05v2.525h-5.05zM513.62 716.4h7.57v2.525h-7.57zM526.25 716.4h5.05v2.525h-5.05zM533.83 716.4h7.57v2.525h-7.57zM543.92 716.4h5.05v2.525h-5.05zM559.08 716.4h5.05v2.525h-5.05zM506.05 718.93h2.52v2.525h-2.52zM511.1 718.93h2.52v2.525h-2.52zM543.92 718.93h5.05v2.525h-5.05zM561.6 718.93h2.52v2.525h-2.52zM569.17 718.93h5.05v2.525h-5.05zM480.8 721.45h12.62v2.525h-12.62zM495.95 721.45h2.52v2.525h-2.52zM543.92 721.45h2.52v2.525h-2.52zM551.5 721.45h7.57v2.525h-7.57zM561.6 721.45h2.52v2.525h-2.52zM569.17 721.45h5.05v2.525h-5.05zM480.8 723.98h5.05v2.525h-5.05zM488.38 723.98h2.52v2.525h-2.52zM503.53 723.98h2.52v2.525h-2.52zM546.45 723.98h2.52v2.525h-2.52zM551.5 723.98h5.05v2.525h-5.05zM559.08 723.98h5.05v2.525h-5.05zM569.17 723.98h2.52v2.525h-2.52zM480.8 726.5h2.52v2.525h-2.52zM488.38 726.5h5.05v2.525h-5.05zM495.95 726.5h2.52v2.525h-2.52zM503.53 726.5h2.52v2.525h-2.52zM543.92 726.5h2.52v2.525h-2.52zM548.98 726.5h5.05v2.525h-5.05zM561.6 726.5h10.1v2.525h-10.1zM483.32 729.02h7.57v2.525h-7.57zM498.48 729.02h5.05v2.525h-5.05zM506.05 729.02h2.52v2.525h-2.52zM546.45 729.02h2.52v2.525h-2.52zM551.5 729.02h5.05v2.525h-5.05zM561.6 729.02h2.52v2.525h-2.52zM569.17 729.02h2.52v2.525h-2.52zM480.8 731.55h2.52v2.525h-2.52zM485.85 731.55h5.05v2.525h-5.05zM495.95 731.55h2.52v2.525h-2.52zM503.53 731.55h2.52v2.525h-2.52zM508.57 731.55h5.05v2.525h-5.05zM551.5 731.55h2.52v2.525h-2.52zM559.08 731.55h5.05v2.525h-5.05zM569.17 731.55h2.52v2.525h-2.52zM485.85 734.08h5.05v2.525h-5.05zM493.43 734.08h2.52v2.525h-2.52zM498.48 734.08h2.52v2.525h-2.52zM503.53 734.08h2.52v2.525h-2.52zM508.57 734.08h2.52v2.525h-2.52zM551.5 734.08h2.52v2.525h-2.52zM488.38 736.6h10.1v2.525h-10.1zM503.53 736.6h10.1v2.525h-10.1zM541.4 736.6h5.05v2.525h-5.05zM548.98 736.6h7.57v2.525h-7.57zM559.08 736.6h2.52v2.525h-2.52zM564.12 736.6h5.05v2.525h-5.05zM571.7 736.6h2.52v2.525h-2.52zM488.38 739.12h5.05v2.525h-5.05zM498.48 739.12h2.52v2.525h-2.52zM506.05 739.12h5.05v2.525h-5.05zM548.98 739.12h7.57v2.525h-7.57zM566.65 739.12h5.05v2.525h-5.05zM480.8 741.65h2.52v2.525h-2.52zM485.85 741.65h5.05v2.525h-5.05zM495.95 741.65h2.52v2.525h-2.52zM503.53 741.65h7.57v2.525h-7.57zM541.4 741.65h2.52v2.525h-2.52zM548.98 741.65h7.57v2.525h-7.57zM566.65 741.65h5.05v2.525h-5.05zM488.38 744.18h5.05v2.525h-5.05zM501.0 744.18h5.05v2.525h-5.05zM511.1 744.18h2.52v2.525h-2.52zM541.4 744.18h2.52v2.525h-2.52zM551.5 744.18h2.52v2.525h-2.52zM556.55 744.18h5.05v2.525h-5.05zM566.65 744.18h7.57v2.525h-7.57zM485.85 746.7h12.62v2.525h-12.62zM516.15 746.7h12.62v2.525h-12.62zM541.4 746.7h7.57v2.525h-7.57zM551.5 746.7h5.05v2.525h-5.05zM559.08 746.7h2.52v2.525h-2.52zM566.65 746.7h5.05v2.525h-5.05zM483.32 749.23h7.57v2.525h-7.57zM511.1 749.23h7.57v2.525h-7.57zM523.73 749.23h2.52v2.525h-2.52zM528.77 749.23h2.52v2.525h-2.52zM533.83 749.23h2.52v2.525h-2.52zM551.5 749.23h5.05v2.525h-5.05zM564.12 749.23h2.52v2.525h-2.52zM569.17 749.23h2.52v2.525h-2.52zM480.8 751.75h10.1v2.525h-10.1zM493.43 751.75h10.1v2.525h-10.1zM508.57 751.75h2.52v2.525h-2.52zM516.15 751.75h2.52v2.525h-2.52zM523.73 751.75h2.52v2.525h-2.52zM528.77 751.75h7.57v2.525h-7.57zM538.88 751.75h2.52v2.525h-2.52zM543.92 751.75h2.52v2.525h-2.52zM548.98 751.75h2.52v2.525h-2.52zM554.02 751.75h2.52v2.525h-2.52zM564.12 751.75h2.52v2.525h-2.52zM569.17 751.75h2.52v2.525h-2.52zM480.8 754.27h2.52v2.525h-2.52zM498.48 754.27h5.05v2.525h-5.05zM513.62 754.27h2.52v2.525h-2.52zM521.2 754.27h2.52v2.525h-2.52zM531.3 754.27h2.52v2.525h-2.52zM541.4 754.27h7.57v2.525h-7.57zM551.5 754.27h5.05v2.525h-5.05zM561.6 754.27h12.62v2.525h-12.62zM490.9 756.8h2.52v2.525h-2.52zM495.95 756.8h2.52v2.525h-2.52zM506.05 756.8h2.52v2.525h-2.52zM511.1 756.8h2.52v2.525h-2.52zM518.67 756.8h5.05v2.525h-5.05zM526.25 756.8h7.57v2.525h-7.57zM538.88 756.8h2.52v2.525h-2.52zM543.92 756.8h5.05v2.525h-5.05zM551.5 756.8h17.68v2.525h-17.68zM503.53 759.33h2.52v2.525h-2.52zM508.57 759.33h5.05v2.525h-5.05zM516.15 759.33h5.05v2.525h-5.05zM526.25 759.33h2.52v2.525h-2.52zM533.83 759.33h10.1v2.525h-10.1zM546.45 759.33h7.57v2.525h-7.57zM561.6 759.33h2.52v2.525h-2.52zM571.7 759.33h2.52v2.525h-2.52zM480.8 761.85h17.68v2.525h-17.68zM503.53 761.85h2.52v2.525h-2.52zM508.57 761.85h5.05v2.525h-5.05zM516.15 761.85h5.05v2.525h-5.05zM523.73 761.85h12.62v2.525h-12.62zM538.88 761.85h2.52v2.525h-2.52zM546.45 761.85h2.52v2.525h-2.52zM551.5 761.85h2.52v2.525h-2.52zM556.55 761.85h2.52v2.525h-2.52zM561.6 761.85h2.52v2.525h-2.52zM480.8 764.38h2.52v2.525h-2.52zM495.95 764.38h2.52v2.525h-2.52zM501.0 764.38h5.05v2.525h-5.05zM511.1 764.38h5.05v2.525h-5.05zM518.67 764.38h2.52v2.525h-2.52zM526.25 764.38h7.57v2.525h-7.57zM543.92 764.38h2.52v2.525h-2.52zM548.98 764.38h5.05v2.525h-5.05zM561.6 764.38h2.52v2.525h-2.52zM480.8 766.9h2.52v2.525h-2.52zM485.85 766.9h7.57v2.525h-7.57zM495.95 766.9h2.52v2.525h-2.52zM501.0 766.9h5.05v2.525h-5.05zM508.57 766.9h5.05v2.525h-5.05zM523.73 766.9h7.57v2.525h-7.57zM533.83 766.9h2.52v2.525h-2.52zM543.92 766.9h5.05v2.525h-5.05zM551.5 766.9h15.15v2.525h-15.15zM571.7 766.9h2.52v2.525h-2.52zM480.8 769.43h2.52v2.525h-2.52zM485.85 769.43h7.57v2.525h-7.57zM495.95 769.43h2.52v2.525h-2.52zM503.53 769.43h5.05v2.525h-5.05zM513.62 769.43h5.05v2.525h-5.05zM521.2 769.43h5.05v2.525h-5.05zM541.4 769.43h5.05v2.525h-5.05zM548.98 769.43h7.57v2.525h-7.57zM559.08 769.43h15.15v2.525h-15.15zM480.8 771.95h2.52v2.525h-2.52zM485.85 771.95h7.57v2.525h-7.57zM495.95 771.95h2.52v2.525h-2.52zM503.53 771.95h12.62v2.525h-12.62zM518.67 771.95h7.57v2.525h-7.57zM528.77 771.95h2.52v2.525h-2.52zM538.88 771.95h10.1v2.525h-10.1zM551.5 771.95h5.05v2.525h-5.05zM559.08 771.95h12.62v2.525h-12.62zM480.8 774.48h2.52v2.525h-2.52zM495.95 774.48h2.52v2.525h-2.52zM503.53 774.48h7.57v2.525h-7.57zM513.62 774.48h5.05v2.525h-5.05zM521.2 774.48h15.15v2.525h-15.15zM546.45 774.48h5.05v2.525h-5.05zM554.02 774.48h2.52v2.525h-2.52zM566.65 774.48h7.57v2.525h-7.57zM480.8 777.0h17.68v2.525h-17.68zM501.0 777.0h2.52v2.525h-2.52zM506.05 777.0h2.52v2.525h-2.52zM511.1 777.0h12.62v2.525h-12.62zM533.83 777.0h2.52v2.525h-2.52zM538.88 777.0h10.1v2.525h-10.1zM559.08 777.0h15.15v2.525h-15.15z" fill="#6e6e6e" filter="url(#soft)"/>
<rect x="514" y="719.8" width="27" height="26" fill="#fff"/>
<rect x="515" y="720.8" width="25.2" height="24.2" rx="1" fill="#f46c6c"/>
<rect x="528.2" y="722.6" width="10.2" height="20.6" fill="#fff"/>
<text font-family='"Liberation Sans","Noto Sans CJK SC",sans-serif' font-size="9.5" font-weight="bold"><tspan x="517.3" y="732" fill="#fff">以</tspan><tspan x="517.3" y="742.3" fill="#fff">图</tspan><tspan x="528.6" y="732" fill="#f46c6c">搜</tspan><tspan x="528.6" y="742.3" fill="#f46c6c">藏</tspan></text>
<text x="473" y="809.3" font-family='"Liberation Sans",sans-serif' font-size="23.5" font-weight="bold" textLength="108.5" lengthAdjust="spacingAndGlyphs" fill="#f4a3aa" stroke="#f4a3aa" stroke-width="1.1" paint-order="stroke" style="paint-order:stroke">6xiu.com</text>
<path d="M500.5 791.7 Q538 783.9 584 797 L583.4 799.8 Q540 788 500.5 792.4Z" fill="#f4a3aa" stroke="#f4a3aa" stroke-width="0.4"/>
</g>
</svg>
</body></html>
